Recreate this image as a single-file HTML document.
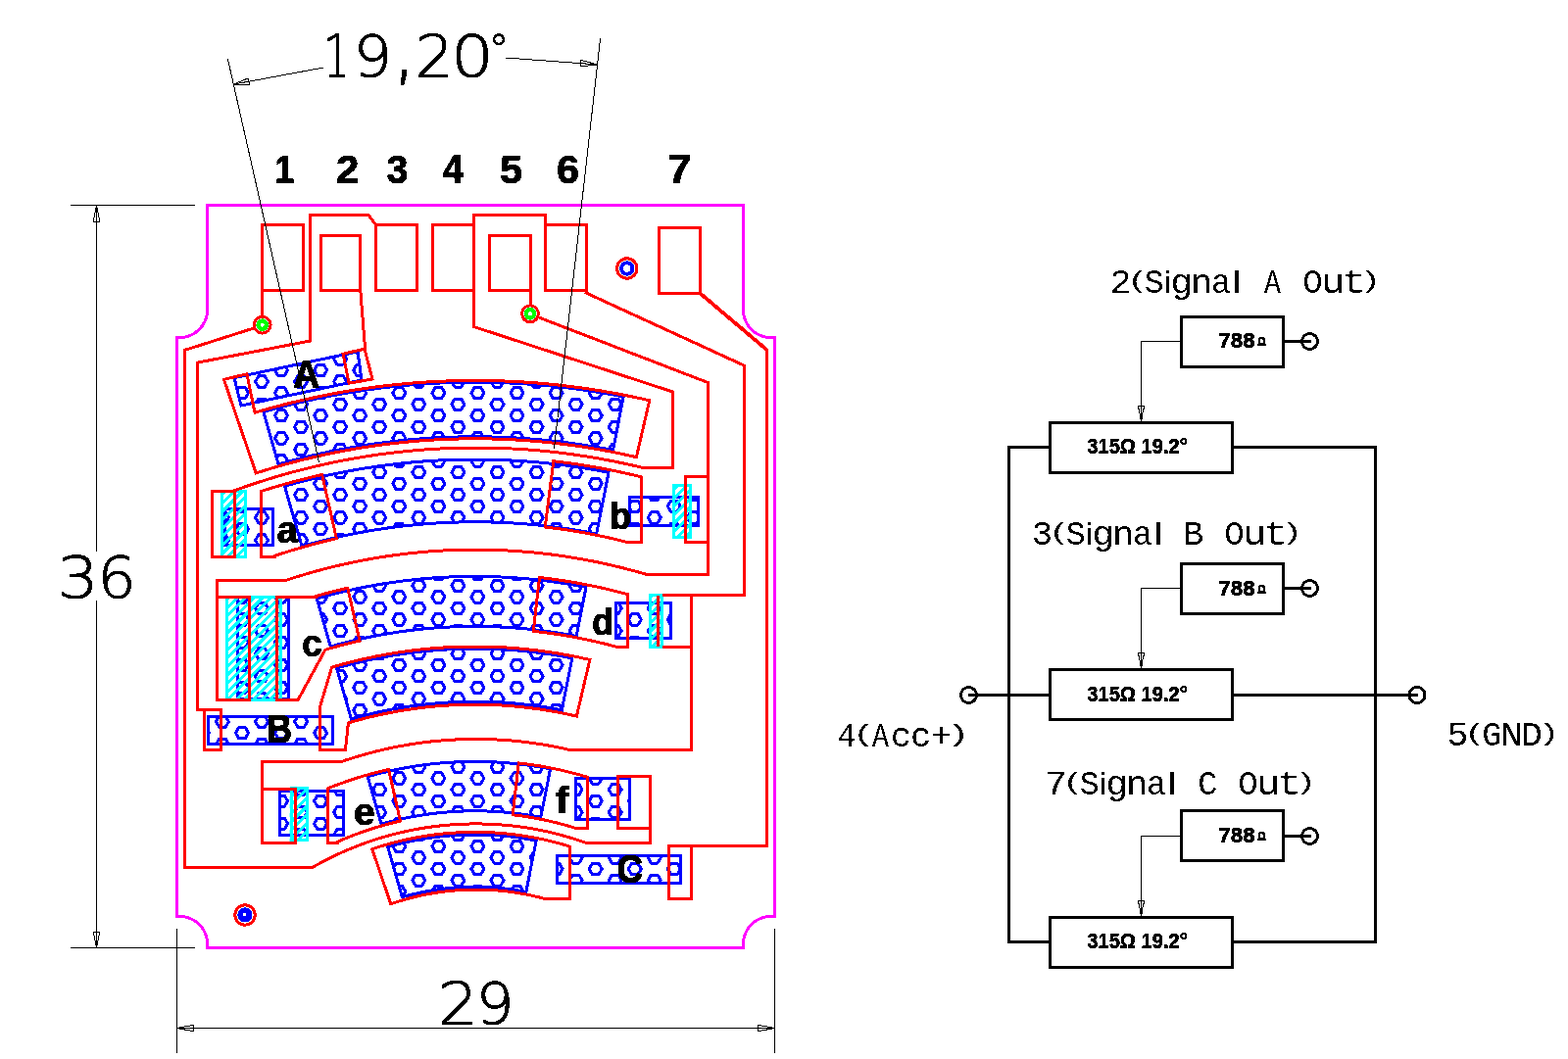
<!DOCTYPE html>
<html lang="en"><head><meta charset="utf-8"><title>Resistor card layout</title>
<style>
html,body{margin:0;padding:0;background:#fff;}
body{width:1600px;height:1081px;overflow:hidden;font-family:"Liberation Sans",sans-serif;}
svg{display:block;}
</style></head><body>
<svg width="1600" height="1081" viewBox="0 0 1600 1081" shape-rendering="crispEdges">
<defs>
<clipPath id="bc">
<path d="M268.82,420.44A785.6 785.6 0 0 1 636.21,404.95L625.49,459.51A730 730 0 0 0 284.1,473.9Z"/>
<path d="M290.47,496.21A706.8 706.8 0 0 1 621.02,482.27L608.71,544.87A643 643 0 0 0 308,557.55Z"/>
<path d="M323.28,611.01A587.4 587.4 0 0 1 597.99,599.43L588.15,649.47A536.4 536.4 0 0 0 337.3,660.05Z"/>
<path d="M343.56,681.97A513.6 513.6 0 0 1 583.76,671.84L573.34,724.83A459.6 459.6 0 0 0 358.4,733.89Z"/>
<path d="M375.22,792.74A398.4 398.4 0 0 1 561.54,784.88L551.82,834.33A348 348 0 0 0 389.07,841.2Z"/>
<path d="M395.72,864.47A323.8 323.8 0 0 1 547.15,858.08L536.87,910.38A270.5 270.5 0 0 0 410.37,915.71Z"/>
<path d="M229,519.5H278.5V556.5H229Z"/>
<path d="M642.5,507.5H712.5V536.5H642.5Z"/>
<path d="M242.5,609.5H294.5V713H242.5Z"/>
<path d="M628.5,615.5H684.5V651.3H628.5Z"/>
<path d="M285.5,807.7H350.5V852.5H285.5Z"/>
<path d="M587.6,794.5H642.5V836.5H587.6Z"/>
<path d="M212.5,731.5H339.5V759.3H212.5Z"/>
<path d="M568.5,873.5H694.5V901.3H568.5Z"/>
<path d="M239,385.6L365,359L369,388L246,414Z"/>
</clipPath>
<clipPath id="cc0"><rect x="225" y="500" width="27" height="70"/></clipPath>
<clipPath id="cc1"><rect x="686" y="494" width="20" height="56"/></clipPath>
<clipPath id="cc2"><rect x="230.2" y="608" width="57.8" height="108"/></clipPath>
<clipPath id="cc3"><rect x="662" y="606" width="15" height="56"/></clipPath>
<clipPath id="cc4"><rect x="295.6" y="803" width="19.4" height="56"/></clipPath>
<filter id="th" x="0" y="0" width="1600" height="1081" filterUnits="userSpaceOnUse" color-interpolation-filters="sRGB"><feComponentTransfer><feFuncA type="discrete" tableValues="0 1"/></feComponentTransfer></filter>
</defs>
<rect width="1600" height="1081" fill="#fff"/>
<g fill="none" stroke="#00f" stroke-width="3" stroke-linejoin="miter">
<path clip-path="url(#bc)" stroke-linejoin="round" d="M213.4,725.0L210.1,730.7L203.6,730.7L200.4,725.0L203.6,719.4L210.1,719.4ZM213.4,748.2L210.1,753.8L203.6,753.8L200.4,748.2L203.6,742.5L210.1,742.5ZM233.4,505.2L230.2,510.8L223.7,510.8L220.4,505.2L223.7,499.6L230.2,499.6ZM233.4,528.3L230.2,534.0L223.7,534.0L220.4,528.3L223.7,522.7L230.2,522.7ZM233.4,551.5L230.2,557.1L223.7,557.1L220.4,551.5L223.7,545.9L230.2,545.9ZM233.4,736.6L230.2,742.2L223.7,742.2L220.4,736.6L223.7,731.0L230.2,731.0ZM233.4,759.7L230.2,765.4L223.7,765.4L220.4,759.7L223.7,754.1L230.2,754.1ZM253.5,354.8L250.2,360.4L243.7,360.4L240.5,354.8L243.7,349.2L250.2,349.2ZM253.5,377.9L250.2,383.6L243.7,383.6L240.5,377.9L243.7,372.3L250.2,372.3ZM253.5,401.1L250.2,406.7L243.7,406.7L240.5,401.1L243.7,395.4L250.2,395.4ZM253.5,516.8L250.2,522.4L243.7,522.4L240.5,516.8L243.7,511.1L250.2,511.1ZM253.5,539.9L250.2,545.5L243.7,545.5L240.5,539.9L243.7,534.3L250.2,534.3ZM253.5,563.1L250.2,568.7L243.7,568.7L240.5,563.1L243.7,557.4L250.2,557.4ZM253.5,609.3L250.2,615.0L243.7,615.0L240.5,609.3L243.7,603.7L250.2,603.7ZM253.5,632.5L250.2,638.1L243.7,638.1L240.5,632.5L243.7,626.8L250.2,626.8ZM253.5,655.6L250.2,661.2L243.7,661.2L240.5,655.6L243.7,650.0L250.2,650.0ZM253.5,678.8L250.2,684.4L243.7,684.4L240.5,678.8L243.7,673.1L250.2,673.1ZM253.5,701.9L250.2,707.5L243.7,707.5L240.5,701.9L243.7,696.3L250.2,696.3ZM253.5,725.0L250.2,730.7L243.7,730.7L240.5,725.0L243.7,719.4L250.2,719.4ZM253.5,748.2L250.2,753.8L243.7,753.8L240.5,748.2L243.7,742.5L250.2,742.5ZM273.5,343.2L270.2,348.8L263.8,348.8L260.5,343.2L263.8,337.6L270.2,337.6ZM273.5,366.4L270.2,372.0L263.8,372.0L260.5,366.4L263.8,360.7L270.2,360.7ZM273.5,389.5L270.2,395.1L263.8,395.1L260.5,389.5L263.8,383.9L270.2,383.9ZM273.5,412.6L270.2,418.3L263.8,418.3L260.5,412.6L263.8,407.0L270.2,407.0ZM273.5,435.8L270.2,441.4L263.8,441.4L260.5,435.8L263.8,430.2L270.2,430.2ZM273.5,458.9L270.2,464.5L263.8,464.5L260.5,458.9L263.8,453.3L270.2,453.3ZM273.5,482.1L270.2,487.7L263.8,487.7L260.5,482.1L263.8,476.4L270.2,476.4ZM273.5,505.2L270.2,510.8L263.8,510.8L260.5,505.2L263.8,499.6L270.2,499.6ZM273.5,528.3L270.2,534.0L263.8,534.0L260.5,528.3L263.8,522.7L270.2,522.7ZM273.5,551.5L270.2,557.1L263.8,557.1L260.5,551.5L263.8,545.9L270.2,545.9ZM273.5,597.8L270.2,603.4L263.8,603.4L260.5,597.8L263.8,592.1L270.2,592.1ZM273.5,620.9L270.2,626.5L263.8,626.5L260.5,620.9L263.8,615.3L270.2,615.3ZM273.5,644.0L270.2,649.7L263.8,649.7L260.5,644.0L263.8,638.4L270.2,638.4ZM273.5,667.2L270.2,672.8L263.8,672.8L260.5,667.2L263.8,661.6L270.2,661.6ZM273.5,690.3L270.2,695.9L263.8,695.9L260.5,690.3L263.8,684.7L270.2,684.7ZM273.5,713.5L270.2,719.1L263.8,719.1L260.5,713.5L263.8,707.8L270.2,707.8ZM273.5,736.6L270.2,742.2L263.8,742.2L260.5,736.6L263.8,731.0L270.2,731.0ZM273.5,759.7L270.2,765.4L263.8,765.4L260.5,759.7L263.8,754.1L270.2,754.1ZM293.5,354.8L290.3,360.4L283.8,360.4L280.5,354.8L283.8,349.2L290.3,349.2ZM293.5,377.9L290.3,383.6L283.8,383.6L280.5,377.9L283.8,372.3L290.3,372.3ZM293.5,401.1L290.3,406.7L283.8,406.7L280.5,401.1L283.8,395.4L290.3,395.4ZM293.5,424.2L290.3,429.8L283.8,429.8L280.5,424.2L283.8,418.6L290.3,418.6ZM293.5,447.3L290.3,453.0L283.8,453.0L280.5,447.3L283.8,441.7L290.3,441.7ZM293.5,470.5L290.3,476.1L283.8,476.1L280.5,470.5L283.8,464.9L290.3,464.9ZM293.5,493.6L290.3,499.3L283.8,499.3L280.5,493.6L283.8,488.0L290.3,488.0ZM293.5,516.8L290.3,522.4L283.8,522.4L280.5,516.8L283.8,511.1L290.3,511.1ZM293.5,539.9L290.3,545.5L283.8,545.5L280.5,539.9L283.8,534.3L290.3,534.3ZM293.5,563.1L290.3,568.7L283.8,568.7L280.5,563.1L283.8,557.4L290.3,557.4ZM293.5,609.3L290.3,615.0L283.8,615.0L280.5,609.3L283.8,603.7L290.3,603.7ZM293.5,632.5L290.3,638.1L283.8,638.1L280.5,632.5L283.8,626.8L290.3,626.8ZM293.5,655.6L290.3,661.2L283.8,661.2L280.5,655.6L283.8,650.0L290.3,650.0ZM293.5,678.8L290.3,684.4L283.8,684.4L280.5,678.8L283.8,673.1L290.3,673.1ZM293.5,701.9L290.3,707.5L283.8,707.5L280.5,701.9L283.8,696.3L290.3,696.3ZM293.5,725.0L290.3,730.7L283.8,730.7L280.5,725.0L283.8,719.4L290.3,719.4ZM293.5,748.2L290.3,753.8L283.8,753.8L280.5,748.2L283.8,742.5L290.3,742.5ZM293.5,794.5L290.3,800.1L283.8,800.1L280.5,794.5L283.8,788.8L290.3,788.8ZM293.5,817.6L290.3,823.2L283.8,823.2L280.5,817.6L283.8,812.0L290.3,812.0ZM293.5,840.7L290.3,846.4L283.8,846.4L280.5,840.7L283.8,835.1L290.3,835.1ZM313.6,343.2L310.3,348.8L303.8,348.8L300.6,343.2L303.8,337.6L310.3,337.6ZM313.6,366.4L310.3,372.0L303.8,372.0L300.6,366.4L303.8,360.7L310.3,360.7ZM313.6,389.5L310.3,395.1L303.8,395.1L300.6,389.5L303.8,383.9L310.3,383.9ZM313.6,412.6L310.3,418.3L303.8,418.3L300.6,412.6L303.8,407.0L310.3,407.0ZM313.6,435.8L310.3,441.4L303.8,441.4L300.6,435.8L303.8,430.2L310.3,430.2ZM313.6,458.9L310.3,464.5L303.8,464.5L300.6,458.9L303.8,453.3L310.3,453.3ZM313.6,482.1L310.3,487.7L303.8,487.7L300.6,482.1L303.8,476.4L310.3,476.4ZM313.6,505.2L310.3,510.8L303.8,510.8L300.6,505.2L303.8,499.6L310.3,499.6ZM313.6,528.3L310.3,534.0L303.8,534.0L300.6,528.3L303.8,522.7L310.3,522.7ZM313.6,551.5L310.3,557.1L303.8,557.1L300.6,551.5L303.8,545.9L310.3,545.9ZM313.6,736.6L310.3,742.2L303.8,742.2L300.6,736.6L303.8,731.0L310.3,731.0ZM313.6,759.7L310.3,765.4L303.8,765.4L300.6,759.7L303.8,754.1L310.3,754.1ZM313.6,806.0L310.3,811.6L303.8,811.6L300.6,806.0L303.8,800.4L310.3,800.4ZM313.6,829.2L310.3,834.8L303.8,834.8L300.6,829.2L303.8,823.5L310.3,823.5ZM313.6,852.3L310.3,857.9L303.8,857.9L300.6,852.3L303.8,846.7L310.3,846.7ZM333.6,354.8L330.4,360.4L323.9,360.4L320.6,354.8L323.9,349.2L330.4,349.2ZM333.6,377.9L330.4,383.6L323.9,383.6L320.6,377.9L323.9,372.3L330.4,372.3ZM333.6,401.1L330.4,406.7L323.9,406.7L320.6,401.1L323.9,395.4L330.4,395.4ZM333.6,424.2L330.4,429.8L323.9,429.8L320.6,424.2L323.9,418.6L330.4,418.6ZM333.6,447.3L330.4,453.0L323.9,453.0L320.6,447.3L323.9,441.7L330.4,441.7ZM333.6,470.5L330.4,476.1L323.9,476.1L320.6,470.5L323.9,464.9L330.4,464.9ZM333.6,493.6L330.4,499.3L323.9,499.3L320.6,493.6L323.9,488.0L330.4,488.0ZM333.6,516.8L330.4,522.4L323.9,522.4L320.6,516.8L323.9,511.1L330.4,511.1ZM333.6,539.9L330.4,545.5L323.9,545.5L320.6,539.9L323.9,534.3L330.4,534.3ZM333.6,563.1L330.4,568.7L323.9,568.7L320.6,563.1L323.9,557.4L330.4,557.4ZM333.6,586.2L330.4,591.8L323.9,591.8L320.6,586.2L323.9,580.6L330.4,580.6ZM333.6,609.3L330.4,615.0L323.9,615.0L320.6,609.3L323.9,603.7L330.4,603.7ZM333.6,632.5L330.4,638.1L323.9,638.1L320.6,632.5L323.9,626.8L330.4,626.8ZM333.6,655.6L330.4,661.2L323.9,661.2L320.6,655.6L323.9,650.0L330.4,650.0ZM333.6,725.0L330.4,730.7L323.9,730.7L320.6,725.0L323.9,719.4L330.4,719.4ZM333.6,748.2L330.4,753.8L323.9,753.8L320.6,748.2L323.9,742.5L330.4,742.5ZM333.6,794.5L330.4,800.1L323.9,800.1L320.6,794.5L323.9,788.8L330.4,788.8ZM333.6,817.6L330.4,823.2L323.9,823.2L320.6,817.6L323.9,812.0L330.4,812.0ZM333.6,840.7L330.4,846.4L323.9,846.4L320.6,840.7L323.9,835.1L330.4,835.1ZM353.7,343.2L350.4,348.8L343.9,348.8L340.7,343.2L343.9,337.6L350.4,337.6ZM353.7,366.4L350.4,372.0L343.9,372.0L340.7,366.4L343.9,360.7L350.4,360.7ZM353.7,389.5L350.4,395.1L343.9,395.1L340.7,389.5L343.9,383.9L350.4,383.9ZM353.7,412.6L350.4,418.3L343.9,418.3L340.7,412.6L343.9,407.0L350.4,407.0ZM353.7,435.8L350.4,441.4L343.9,441.4L340.7,435.8L343.9,430.2L350.4,430.2ZM353.7,458.9L350.4,464.5L343.9,464.5L340.7,458.9L343.9,453.3L350.4,453.3ZM353.7,482.1L350.4,487.7L343.9,487.7L340.7,482.1L343.9,476.4L350.4,476.4ZM353.7,505.2L350.4,510.8L343.9,510.8L340.7,505.2L343.9,499.6L350.4,499.6ZM353.7,528.3L350.4,534.0L343.9,534.0L340.7,528.3L343.9,522.7L350.4,522.7ZM353.7,551.5L350.4,557.1L343.9,557.1L340.7,551.5L343.9,545.9L350.4,545.9ZM353.7,597.8L350.4,603.4L343.9,603.4L340.7,597.8L343.9,592.1L350.4,592.1ZM353.7,620.9L350.4,626.5L343.9,626.5L340.7,620.9L343.9,615.3L350.4,615.3ZM353.7,644.0L350.4,649.7L343.9,649.7L340.7,644.0L343.9,638.4L350.4,638.4ZM353.7,667.2L350.4,672.8L343.9,672.8L340.7,667.2L343.9,661.6L350.4,661.6ZM353.7,690.3L350.4,695.9L343.9,695.9L340.7,690.3L343.9,684.7L350.4,684.7ZM353.7,713.5L350.4,719.1L343.9,719.1L340.7,713.5L343.9,707.8L350.4,707.8ZM353.7,736.6L350.4,742.2L343.9,742.2L340.7,736.6L343.9,731.0L350.4,731.0ZM353.7,759.7L350.4,765.4L343.9,765.4L340.7,759.7L343.9,754.1L350.4,754.1ZM353.7,806.0L350.4,811.6L343.9,811.6L340.7,806.0L343.9,800.4L350.4,800.4ZM353.7,829.2L350.4,834.8L343.9,834.8L340.7,829.2L343.9,823.5L350.4,823.5ZM353.7,852.3L350.4,857.9L343.9,857.9L340.7,852.3L343.9,846.7L350.4,846.7ZM373.7,354.8L370.4,360.4L363.9,360.4L360.7,354.8L363.9,349.2L370.4,349.2ZM373.7,377.9L370.4,383.6L363.9,383.6L360.7,377.9L363.9,372.3L370.4,372.3ZM373.7,401.1L370.4,406.7L363.9,406.7L360.7,401.1L363.9,395.4L370.4,395.4ZM373.7,424.2L370.4,429.8L363.9,429.8L360.7,424.2L363.9,418.6L370.4,418.6ZM373.7,447.3L370.4,453.0L363.9,453.0L360.7,447.3L363.9,441.7L370.4,441.7ZM373.7,470.5L370.4,476.1L363.9,476.1L360.7,470.5L363.9,464.9L370.4,464.9ZM373.7,493.6L370.4,499.3L363.9,499.3L360.7,493.6L363.9,488.0L370.4,488.0ZM373.7,516.8L370.4,522.4L363.9,522.4L360.7,516.8L363.9,511.1L370.4,511.1ZM373.7,539.9L370.4,545.5L363.9,545.5L360.7,539.9L363.9,534.3L370.4,534.3ZM373.7,563.1L370.4,568.7L363.9,568.7L360.7,563.1L363.9,557.4L370.4,557.4ZM373.7,586.2L370.4,591.8L363.9,591.8L360.7,586.2L363.9,580.6L370.4,580.6ZM373.7,609.3L370.4,615.0L363.9,615.0L360.7,609.3L363.9,603.7L370.4,603.7ZM373.7,632.5L370.4,638.1L363.9,638.1L360.7,632.5L363.9,626.8L370.4,626.8ZM373.7,655.6L370.4,661.2L363.9,661.2L360.7,655.6L363.9,650.0L370.4,650.0ZM373.7,678.8L370.4,684.4L363.9,684.4L360.7,678.8L363.9,673.1L370.4,673.1ZM373.7,701.9L370.4,707.5L363.9,707.5L360.7,701.9L363.9,696.3L370.4,696.3ZM373.7,725.0L370.4,730.7L363.9,730.7L360.7,725.0L363.9,719.4L370.4,719.4ZM373.7,771.3L370.4,776.9L363.9,776.9L360.7,771.3L363.9,765.7L370.4,765.7ZM373.7,794.5L370.4,800.1L363.9,800.1L360.7,794.5L363.9,788.8L370.4,788.8ZM373.7,817.6L370.4,823.2L363.9,823.2L360.7,817.6L363.9,812.0L370.4,812.0ZM373.7,840.7L370.4,846.4L363.9,846.4L360.7,840.7L363.9,835.1L370.4,835.1ZM393.7,389.5L390.5,395.1L384.0,395.1L380.7,389.5L384.0,383.9L390.5,383.9ZM393.7,412.6L390.5,418.3L384.0,418.3L380.7,412.6L384.0,407.0L390.5,407.0ZM393.7,435.8L390.5,441.4L384.0,441.4L380.7,435.8L384.0,430.2L390.5,430.2ZM393.7,458.9L390.5,464.5L384.0,464.5L380.7,458.9L384.0,453.3L390.5,453.3ZM393.7,482.1L390.5,487.7L384.0,487.7L380.7,482.1L384.0,476.4L390.5,476.4ZM393.7,505.2L390.5,510.8L384.0,510.8L380.7,505.2L384.0,499.6L390.5,499.6ZM393.7,528.3L390.5,534.0L384.0,534.0L380.7,528.3L384.0,522.7L390.5,522.7ZM393.7,551.5L390.5,557.1L384.0,557.1L380.7,551.5L384.0,545.9L390.5,545.9ZM393.7,597.8L390.5,603.4L384.0,603.4L380.7,597.8L384.0,592.1L390.5,592.1ZM393.7,620.9L390.5,626.5L384.0,626.5L380.7,620.9L384.0,615.3L390.5,615.3ZM393.7,644.0L390.5,649.7L384.0,649.7L380.7,644.0L384.0,638.4L390.5,638.4ZM393.7,667.2L390.5,672.8L384.0,672.8L380.7,667.2L384.0,661.6L390.5,661.6ZM393.7,690.3L390.5,695.9L384.0,695.9L380.7,690.3L384.0,684.7L390.5,684.7ZM393.7,713.5L390.5,719.1L384.0,719.1L380.7,713.5L384.0,707.8L390.5,707.8ZM393.7,736.6L390.5,742.2L384.0,742.2L380.7,736.6L384.0,731.0L390.5,731.0ZM393.7,782.9L390.5,788.5L384.0,788.5L380.7,782.9L384.0,777.3L390.5,777.3ZM393.7,806.0L390.5,811.6L384.0,811.6L380.7,806.0L384.0,800.4L390.5,800.4ZM393.7,829.2L390.5,834.8L384.0,834.8L380.7,829.2L384.0,823.5L390.5,823.5ZM393.7,852.3L390.5,857.9L384.0,857.9L380.7,852.3L384.0,846.7L390.5,846.7ZM393.7,875.4L390.5,881.1L384.0,881.1L380.7,875.4L384.0,869.8L390.5,869.8ZM393.7,898.6L390.5,904.2L384.0,904.2L380.7,898.6L384.0,893.0L390.5,893.0ZM393.7,921.7L390.5,927.3L384.0,927.3L380.7,921.7L384.0,916.1L390.5,916.1ZM413.8,401.1L410.5,406.7L404.0,406.7L400.8,401.1L404.0,395.4L410.5,395.4ZM413.8,424.2L410.5,429.8L404.0,429.8L400.8,424.2L404.0,418.6L410.5,418.6ZM413.8,447.3L410.5,453.0L404.0,453.0L400.8,447.3L404.0,441.7L410.5,441.7ZM413.8,470.5L410.5,476.1L404.0,476.1L400.8,470.5L404.0,464.9L410.5,464.9ZM413.8,493.6L410.5,499.3L404.0,499.3L400.8,493.6L404.0,488.0L410.5,488.0ZM413.8,516.8L410.5,522.4L404.0,522.4L400.8,516.8L404.0,511.1L410.5,511.1ZM413.8,539.9L410.5,545.5L404.0,545.5L400.8,539.9L404.0,534.3L410.5,534.3ZM413.8,563.1L410.5,568.7L404.0,568.7L400.8,563.1L404.0,557.4L410.5,557.4ZM413.8,586.2L410.5,591.8L404.0,591.8L400.8,586.2L404.0,580.6L410.5,580.6ZM413.8,609.3L410.5,615.0L404.0,615.0L400.8,609.3L404.0,603.7L410.5,603.7ZM413.8,632.5L410.5,638.1L404.0,638.1L400.8,632.5L404.0,626.8L410.5,626.8ZM413.8,655.6L410.5,661.2L404.0,661.2L400.8,655.6L404.0,650.0L410.5,650.0ZM413.8,678.8L410.5,684.4L404.0,684.4L400.8,678.8L404.0,673.1L410.5,673.1ZM413.8,701.9L410.5,707.5L404.0,707.5L400.8,701.9L404.0,696.3L410.5,696.3ZM413.8,725.0L410.5,730.7L404.0,730.7L400.8,725.0L404.0,719.4L410.5,719.4ZM413.8,771.3L410.5,776.9L404.0,776.9L400.8,771.3L404.0,765.7L410.5,765.7ZM413.8,794.5L410.5,800.1L404.0,800.1L400.8,794.5L404.0,788.8L410.5,788.8ZM413.8,817.6L410.5,823.2L404.0,823.2L400.8,817.6L404.0,812.0L410.5,812.0ZM413.8,840.7L410.5,846.4L404.0,846.4L400.8,840.7L404.0,835.1L410.5,835.1ZM413.8,863.9L410.5,869.5L404.0,869.5L400.8,863.9L404.0,858.2L410.5,858.2ZM413.8,887.0L410.5,892.6L404.0,892.6L400.8,887.0L404.0,881.4L410.5,881.4ZM413.8,910.2L410.5,915.8L404.0,915.8L400.8,910.2L404.0,904.5L410.5,904.5ZM433.8,389.5L430.6,395.1L424.1,395.1L420.8,389.5L424.1,383.9L430.6,383.9ZM433.8,412.6L430.6,418.3L424.1,418.3L420.8,412.6L424.1,407.0L430.6,407.0ZM433.8,435.8L430.6,441.4L424.1,441.4L420.8,435.8L424.1,430.2L430.6,430.2ZM433.8,458.9L430.6,464.5L424.1,464.5L420.8,458.9L424.1,453.3L430.6,453.3ZM433.8,482.1L430.6,487.7L424.1,487.7L420.8,482.1L424.1,476.4L430.6,476.4ZM433.8,505.2L430.6,510.8L424.1,510.8L420.8,505.2L424.1,499.6L430.6,499.6ZM433.8,528.3L430.6,534.0L424.1,534.0L420.8,528.3L424.1,522.7L430.6,522.7ZM433.8,551.5L430.6,557.1L424.1,557.1L420.8,551.5L424.1,545.9L430.6,545.9ZM433.8,597.8L430.6,603.4L424.1,603.4L420.8,597.8L424.1,592.1L430.6,592.1ZM433.8,620.9L430.6,626.5L424.1,626.5L420.8,620.9L424.1,615.3L430.6,615.3ZM433.8,644.0L430.6,649.7L424.1,649.7L420.8,644.0L424.1,638.4L430.6,638.4ZM433.8,667.2L430.6,672.8L424.1,672.8L420.8,667.2L424.1,661.6L430.6,661.6ZM433.8,690.3L430.6,695.9L424.1,695.9L420.8,690.3L424.1,684.7L430.6,684.7ZM433.8,713.5L430.6,719.1L424.1,719.1L420.8,713.5L424.1,707.8L430.6,707.8ZM433.8,736.6L430.6,742.2L424.1,742.2L420.8,736.6L424.1,731.0L430.6,731.0ZM433.8,782.9L430.6,788.5L424.1,788.5L420.8,782.9L424.1,777.3L430.6,777.3ZM433.8,806.0L430.6,811.6L424.1,811.6L420.8,806.0L424.1,800.4L430.6,800.4ZM433.8,829.2L430.6,834.8L424.1,834.8L420.8,829.2L424.1,823.5L430.6,823.5ZM433.8,852.3L430.6,857.9L424.1,857.9L420.8,852.3L424.1,846.7L430.6,846.7ZM433.8,875.4L430.6,881.1L424.1,881.1L420.8,875.4L424.1,869.8L430.6,869.8ZM433.8,898.6L430.6,904.2L424.1,904.2L420.8,898.6L424.1,893.0L430.6,893.0ZM433.8,921.7L430.6,927.3L424.1,927.3L420.8,921.7L424.1,916.1L430.6,916.1ZM453.9,401.1L450.6,406.7L444.1,406.7L440.9,401.1L444.1,395.4L450.6,395.4ZM453.9,424.2L450.6,429.8L444.1,429.8L440.9,424.2L444.1,418.6L450.6,418.6ZM453.9,447.3L450.6,453.0L444.1,453.0L440.9,447.3L444.1,441.7L450.6,441.7ZM453.9,470.5L450.6,476.1L444.1,476.1L440.9,470.5L444.1,464.9L450.6,464.9ZM453.9,493.6L450.6,499.3L444.1,499.3L440.9,493.6L444.1,488.0L450.6,488.0ZM453.9,516.8L450.6,522.4L444.1,522.4L440.9,516.8L444.1,511.1L450.6,511.1ZM453.9,539.9L450.6,545.5L444.1,545.5L440.9,539.9L444.1,534.3L450.6,534.3ZM453.9,563.1L450.6,568.7L444.1,568.7L440.9,563.1L444.1,557.4L450.6,557.4ZM453.9,586.2L450.6,591.8L444.1,591.8L440.9,586.2L444.1,580.6L450.6,580.6ZM453.9,609.3L450.6,615.0L444.1,615.0L440.9,609.3L444.1,603.7L450.6,603.7ZM453.9,632.5L450.6,638.1L444.1,638.1L440.9,632.5L444.1,626.8L450.6,626.8ZM453.9,655.6L450.6,661.2L444.1,661.2L440.9,655.6L444.1,650.0L450.6,650.0ZM453.9,678.8L450.6,684.4L444.1,684.4L440.9,678.8L444.1,673.1L450.6,673.1ZM453.9,701.9L450.6,707.5L444.1,707.5L440.9,701.9L444.1,696.3L450.6,696.3ZM453.9,725.0L450.6,730.7L444.1,730.7L440.9,725.0L444.1,719.4L450.6,719.4ZM453.9,771.3L450.6,776.9L444.1,776.9L440.9,771.3L444.1,765.7L450.6,765.7ZM453.9,794.5L450.6,800.1L444.1,800.1L440.9,794.5L444.1,788.8L450.6,788.8ZM453.9,817.6L450.6,823.2L444.1,823.2L440.9,817.6L444.1,812.0L450.6,812.0ZM453.9,840.7L450.6,846.4L444.1,846.4L440.9,840.7L444.1,835.1L450.6,835.1ZM453.9,863.9L450.6,869.5L444.1,869.5L440.9,863.9L444.1,858.2L450.6,858.2ZM453.9,887.0L450.6,892.6L444.1,892.6L440.9,887.0L444.1,881.4L450.6,881.4ZM453.9,910.2L450.6,915.8L444.1,915.8L440.9,910.2L444.1,904.5L450.6,904.5ZM473.9,389.5L470.6,395.1L464.1,395.1L460.9,389.5L464.1,383.9L470.6,383.9ZM473.9,412.6L470.6,418.3L464.1,418.3L460.9,412.6L464.1,407.0L470.6,407.0ZM473.9,435.8L470.6,441.4L464.1,441.4L460.9,435.8L464.1,430.2L470.6,430.2ZM473.9,458.9L470.6,464.5L464.1,464.5L460.9,458.9L464.1,453.3L470.6,453.3ZM473.9,482.1L470.6,487.7L464.1,487.7L460.9,482.1L464.1,476.4L470.6,476.4ZM473.9,505.2L470.6,510.8L464.1,510.8L460.9,505.2L464.1,499.6L470.6,499.6ZM473.9,528.3L470.6,534.0L464.1,534.0L460.9,528.3L464.1,522.7L470.6,522.7ZM473.9,551.5L470.6,557.1L464.1,557.1L460.9,551.5L464.1,545.9L470.6,545.9ZM473.9,597.8L470.6,603.4L464.1,603.4L460.9,597.8L464.1,592.1L470.6,592.1ZM473.9,620.9L470.6,626.5L464.1,626.5L460.9,620.9L464.1,615.3L470.6,615.3ZM473.9,644.0L470.6,649.7L464.1,649.7L460.9,644.0L464.1,638.4L470.6,638.4ZM473.9,667.2L470.6,672.8L464.1,672.8L460.9,667.2L464.1,661.6L470.6,661.6ZM473.9,690.3L470.6,695.9L464.1,695.9L460.9,690.3L464.1,684.7L470.6,684.7ZM473.9,713.5L470.6,719.1L464.1,719.1L460.9,713.5L464.1,707.8L470.6,707.8ZM473.9,736.6L470.6,742.2L464.1,742.2L460.9,736.6L464.1,731.0L470.6,731.0ZM473.9,782.9L470.6,788.5L464.1,788.5L460.9,782.9L464.1,777.3L470.6,777.3ZM473.9,806.0L470.6,811.6L464.1,811.6L460.9,806.0L464.1,800.4L470.6,800.4ZM473.9,829.2L470.6,834.8L464.1,834.8L460.9,829.2L464.1,823.5L470.6,823.5ZM473.9,852.3L470.6,857.9L464.1,857.9L460.9,852.3L464.1,846.7L470.6,846.7ZM473.9,875.4L470.6,881.1L464.1,881.1L460.9,875.4L464.1,869.8L470.6,869.8ZM473.9,898.6L470.6,904.2L464.1,904.2L460.9,898.6L464.1,893.0L470.6,893.0ZM473.9,921.7L470.6,927.3L464.1,927.3L460.9,921.7L464.1,916.1L470.6,916.1ZM493.9,401.1L490.7,406.7L484.2,406.7L480.9,401.1L484.2,395.4L490.7,395.4ZM493.9,424.2L490.7,429.8L484.2,429.8L480.9,424.2L484.2,418.6L490.7,418.6ZM493.9,447.3L490.7,453.0L484.2,453.0L480.9,447.3L484.2,441.7L490.7,441.7ZM493.9,470.5L490.7,476.1L484.2,476.1L480.9,470.5L484.2,464.9L490.7,464.9ZM493.9,493.6L490.7,499.3L484.2,499.3L480.9,493.6L484.2,488.0L490.7,488.0ZM493.9,516.8L490.7,522.4L484.2,522.4L480.9,516.8L484.2,511.1L490.7,511.1ZM493.9,539.9L490.7,545.5L484.2,545.5L480.9,539.9L484.2,534.3L490.7,534.3ZM493.9,563.1L490.7,568.7L484.2,568.7L480.9,563.1L484.2,557.4L490.7,557.4ZM493.9,586.2L490.7,591.8L484.2,591.8L480.9,586.2L484.2,580.6L490.7,580.6ZM493.9,609.3L490.7,615.0L484.2,615.0L480.9,609.3L484.2,603.7L490.7,603.7ZM493.9,632.5L490.7,638.1L484.2,638.1L480.9,632.5L484.2,626.8L490.7,626.8ZM493.9,655.6L490.7,661.2L484.2,661.2L480.9,655.6L484.2,650.0L490.7,650.0ZM493.9,678.8L490.7,684.4L484.2,684.4L480.9,678.8L484.2,673.1L490.7,673.1ZM493.9,701.9L490.7,707.5L484.2,707.5L480.9,701.9L484.2,696.3L490.7,696.3ZM493.9,725.0L490.7,730.7L484.2,730.7L480.9,725.0L484.2,719.4L490.7,719.4ZM493.9,771.3L490.7,776.9L484.2,776.9L480.9,771.3L484.2,765.7L490.7,765.7ZM493.9,794.5L490.7,800.1L484.2,800.1L480.9,794.5L484.2,788.8L490.7,788.8ZM493.9,817.6L490.7,823.2L484.2,823.2L480.9,817.6L484.2,812.0L490.7,812.0ZM493.9,840.7L490.7,846.4L484.2,846.4L480.9,840.7L484.2,835.1L490.7,835.1ZM493.9,863.9L490.7,869.5L484.2,869.5L480.9,863.9L484.2,858.2L490.7,858.2ZM493.9,887.0L490.7,892.6L484.2,892.6L480.9,887.0L484.2,881.4L490.7,881.4ZM493.9,910.2L490.7,915.8L484.2,915.8L480.9,910.2L484.2,904.5L490.7,904.5ZM514.0,389.5L510.7,395.1L504.2,395.1L501.0,389.5L504.2,383.9L510.7,383.9ZM514.0,412.6L510.7,418.3L504.2,418.3L501.0,412.6L504.2,407.0L510.7,407.0ZM514.0,435.8L510.7,441.4L504.2,441.4L501.0,435.8L504.2,430.2L510.7,430.2ZM514.0,458.9L510.7,464.5L504.2,464.5L501.0,458.9L504.2,453.3L510.7,453.3ZM514.0,482.1L510.7,487.7L504.2,487.7L501.0,482.1L504.2,476.4L510.7,476.4ZM514.0,505.2L510.7,510.8L504.2,510.8L501.0,505.2L504.2,499.6L510.7,499.6ZM514.0,528.3L510.7,534.0L504.2,534.0L501.0,528.3L504.2,522.7L510.7,522.7ZM514.0,551.5L510.7,557.1L504.2,557.1L501.0,551.5L504.2,545.9L510.7,545.9ZM514.0,597.8L510.7,603.4L504.2,603.4L501.0,597.8L504.2,592.1L510.7,592.1ZM514.0,620.9L510.7,626.5L504.2,626.5L501.0,620.9L504.2,615.3L510.7,615.3ZM514.0,644.0L510.7,649.7L504.2,649.7L501.0,644.0L504.2,638.4L510.7,638.4ZM514.0,667.2L510.7,672.8L504.2,672.8L501.0,667.2L504.2,661.6L510.7,661.6ZM514.0,690.3L510.7,695.9L504.2,695.9L501.0,690.3L504.2,684.7L510.7,684.7ZM514.0,713.5L510.7,719.1L504.2,719.1L501.0,713.5L504.2,707.8L510.7,707.8ZM514.0,736.6L510.7,742.2L504.2,742.2L501.0,736.6L504.2,731.0L510.7,731.0ZM514.0,782.9L510.7,788.5L504.2,788.5L501.0,782.9L504.2,777.3L510.7,777.3ZM514.0,806.0L510.7,811.6L504.2,811.6L501.0,806.0L504.2,800.4L510.7,800.4ZM514.0,829.2L510.7,834.8L504.2,834.8L501.0,829.2L504.2,823.5L510.7,823.5ZM514.0,852.3L510.7,857.9L504.2,857.9L501.0,852.3L504.2,846.7L510.7,846.7ZM514.0,875.4L510.7,881.1L504.2,881.1L501.0,875.4L504.2,869.8L510.7,869.8ZM514.0,898.6L510.7,904.2L504.2,904.2L501.0,898.6L504.2,893.0L510.7,893.0ZM514.0,921.7L510.7,927.3L504.2,927.3L501.0,921.7L504.2,916.1L510.7,916.1ZM534.0,401.1L530.8,406.7L524.3,406.7L521.0,401.1L524.3,395.4L530.8,395.4ZM534.0,424.2L530.8,429.8L524.3,429.8L521.0,424.2L524.3,418.6L530.8,418.6ZM534.0,447.3L530.8,453.0L524.3,453.0L521.0,447.3L524.3,441.7L530.8,441.7ZM534.0,470.5L530.8,476.1L524.3,476.1L521.0,470.5L524.3,464.9L530.8,464.9ZM534.0,493.6L530.8,499.3L524.3,499.3L521.0,493.6L524.3,488.0L530.8,488.0ZM534.0,516.8L530.8,522.4L524.3,522.4L521.0,516.8L524.3,511.1L530.8,511.1ZM534.0,539.9L530.8,545.5L524.3,545.5L521.0,539.9L524.3,534.3L530.8,534.3ZM534.0,563.1L530.8,568.7L524.3,568.7L521.0,563.1L524.3,557.4L530.8,557.4ZM534.0,586.2L530.8,591.8L524.3,591.8L521.0,586.2L524.3,580.6L530.8,580.6ZM534.0,609.3L530.8,615.0L524.3,615.0L521.0,609.3L524.3,603.7L530.8,603.7ZM534.0,632.5L530.8,638.1L524.3,638.1L521.0,632.5L524.3,626.8L530.8,626.8ZM534.0,655.6L530.8,661.2L524.3,661.2L521.0,655.6L524.3,650.0L530.8,650.0ZM534.0,678.8L530.8,684.4L524.3,684.4L521.0,678.8L524.3,673.1L530.8,673.1ZM534.0,701.9L530.8,707.5L524.3,707.5L521.0,701.9L524.3,696.3L530.8,696.3ZM534.0,725.0L530.8,730.7L524.3,730.7L521.0,725.0L524.3,719.4L530.8,719.4ZM534.0,771.3L530.8,776.9L524.3,776.9L521.0,771.3L524.3,765.7L530.8,765.7ZM534.0,794.5L530.8,800.1L524.3,800.1L521.0,794.5L524.3,788.8L530.8,788.8ZM534.0,817.6L530.8,823.2L524.3,823.2L521.0,817.6L524.3,812.0L530.8,812.0ZM534.0,840.7L530.8,846.4L524.3,846.4L521.0,840.7L524.3,835.1L530.8,835.1ZM534.0,863.9L530.8,869.5L524.3,869.5L521.0,863.9L524.3,858.2L530.8,858.2ZM534.0,887.0L530.8,892.6L524.3,892.6L521.0,887.0L524.3,881.4L530.8,881.4ZM534.0,910.2L530.8,915.8L524.3,915.8L521.0,910.2L524.3,904.5L530.8,904.5ZM554.1,389.5L550.8,395.1L544.3,395.1L541.1,389.5L544.3,383.9L550.8,383.9ZM554.1,412.6L550.8,418.3L544.3,418.3L541.1,412.6L544.3,407.0L550.8,407.0ZM554.1,435.8L550.8,441.4L544.3,441.4L541.1,435.8L544.3,430.2L550.8,430.2ZM554.1,458.9L550.8,464.5L544.3,464.5L541.1,458.9L544.3,453.3L550.8,453.3ZM554.1,482.1L550.8,487.7L544.3,487.7L541.1,482.1L544.3,476.4L550.8,476.4ZM554.1,505.2L550.8,510.8L544.3,510.8L541.1,505.2L544.3,499.6L550.8,499.6ZM554.1,528.3L550.8,534.0L544.3,534.0L541.1,528.3L544.3,522.7L550.8,522.7ZM554.1,551.5L550.8,557.1L544.3,557.1L541.1,551.5L544.3,545.9L550.8,545.9ZM554.1,597.8L550.8,603.4L544.3,603.4L541.1,597.8L544.3,592.1L550.8,592.1ZM554.1,620.9L550.8,626.5L544.3,626.5L541.1,620.9L544.3,615.3L550.8,615.3ZM554.1,644.0L550.8,649.7L544.3,649.7L541.1,644.0L544.3,638.4L550.8,638.4ZM554.1,667.2L550.8,672.8L544.3,672.8L541.1,667.2L544.3,661.6L550.8,661.6ZM554.1,690.3L550.8,695.9L544.3,695.9L541.1,690.3L544.3,684.7L550.8,684.7ZM554.1,713.5L550.8,719.1L544.3,719.1L541.1,713.5L544.3,707.8L550.8,707.8ZM554.1,736.6L550.8,742.2L544.3,742.2L541.1,736.6L544.3,731.0L550.8,731.0ZM554.1,782.9L550.8,788.5L544.3,788.5L541.1,782.9L544.3,777.3L550.8,777.3ZM554.1,806.0L550.8,811.6L544.3,811.6L541.1,806.0L544.3,800.4L550.8,800.4ZM554.1,829.2L550.8,834.8L544.3,834.8L541.1,829.2L544.3,823.5L550.8,823.5ZM554.1,852.3L550.8,857.9L544.3,857.9L541.1,852.3L544.3,846.7L550.8,846.7ZM554.1,875.4L550.8,881.1L544.3,881.1L541.1,875.4L544.3,869.8L550.8,869.8ZM554.1,898.6L550.8,904.2L544.3,904.2L541.1,898.6L544.3,893.0L550.8,893.0ZM554.1,921.7L550.8,927.3L544.3,927.3L541.1,921.7L544.3,916.1L550.8,916.1ZM574.1,401.1L570.8,406.7L564.3,406.7L561.1,401.1L564.3,395.4L570.8,395.4ZM574.1,424.2L570.8,429.8L564.3,429.8L561.1,424.2L564.3,418.6L570.8,418.6ZM574.1,447.3L570.8,453.0L564.3,453.0L561.1,447.3L564.3,441.7L570.8,441.7ZM574.1,470.5L570.8,476.1L564.3,476.1L561.1,470.5L564.3,464.9L570.8,464.9ZM574.1,493.6L570.8,499.3L564.3,499.3L561.1,493.6L564.3,488.0L570.8,488.0ZM574.1,516.8L570.8,522.4L564.3,522.4L561.1,516.8L564.3,511.1L570.8,511.1ZM574.1,539.9L570.8,545.5L564.3,545.5L561.1,539.9L564.3,534.3L570.8,534.3ZM574.1,563.1L570.8,568.7L564.3,568.7L561.1,563.1L564.3,557.4L570.8,557.4ZM574.1,586.2L570.8,591.8L564.3,591.8L561.1,586.2L564.3,580.6L570.8,580.6ZM574.1,609.3L570.8,615.0L564.3,615.0L561.1,609.3L564.3,603.7L570.8,603.7ZM574.1,632.5L570.8,638.1L564.3,638.1L561.1,632.5L564.3,626.8L570.8,626.8ZM574.1,655.6L570.8,661.2L564.3,661.2L561.1,655.6L564.3,650.0L570.8,650.0ZM574.1,678.8L570.8,684.4L564.3,684.4L561.1,678.8L564.3,673.1L570.8,673.1ZM574.1,701.9L570.8,707.5L564.3,707.5L561.1,701.9L564.3,696.3L570.8,696.3ZM574.1,725.0L570.8,730.7L564.3,730.7L561.1,725.0L564.3,719.4L570.8,719.4ZM574.1,771.3L570.8,776.9L564.3,776.9L561.1,771.3L564.3,765.7L570.8,765.7ZM574.1,794.5L570.8,800.1L564.3,800.1L561.1,794.5L564.3,788.8L570.8,788.8ZM574.1,817.6L570.8,823.2L564.3,823.2L561.1,817.6L564.3,812.0L570.8,812.0ZM574.1,840.7L570.8,846.4L564.3,846.4L561.1,840.7L564.3,835.1L570.8,835.1ZM574.1,863.9L570.8,869.5L564.3,869.5L561.1,863.9L564.3,858.2L570.8,858.2ZM574.1,887.0L570.8,892.6L564.3,892.6L561.1,887.0L564.3,881.4L570.8,881.4ZM574.1,910.2L570.8,915.8L564.3,915.8L561.1,910.2L564.3,904.5L570.8,904.5ZM594.1,389.5L590.9,395.1L584.4,395.1L581.1,389.5L584.4,383.9L590.9,383.9ZM594.1,412.6L590.9,418.3L584.4,418.3L581.1,412.6L584.4,407.0L590.9,407.0ZM594.1,435.8L590.9,441.4L584.4,441.4L581.1,435.8L584.4,430.2L590.9,430.2ZM594.1,458.9L590.9,464.5L584.4,464.5L581.1,458.9L584.4,453.3L590.9,453.3ZM594.1,482.1L590.9,487.7L584.4,487.7L581.1,482.1L584.4,476.4L590.9,476.4ZM594.1,505.2L590.9,510.8L584.4,510.8L581.1,505.2L584.4,499.6L590.9,499.6ZM594.1,528.3L590.9,534.0L584.4,534.0L581.1,528.3L584.4,522.7L590.9,522.7ZM594.1,551.5L590.9,557.1L584.4,557.1L581.1,551.5L584.4,545.9L590.9,545.9ZM594.1,597.8L590.9,603.4L584.4,603.4L581.1,597.8L584.4,592.1L590.9,592.1ZM594.1,620.9L590.9,626.5L584.4,626.5L581.1,620.9L584.4,615.3L590.9,615.3ZM594.1,644.0L590.9,649.7L584.4,649.7L581.1,644.0L584.4,638.4L590.9,638.4ZM594.1,667.2L590.9,672.8L584.4,672.8L581.1,667.2L584.4,661.6L590.9,661.6ZM594.1,690.3L590.9,695.9L584.4,695.9L581.1,690.3L584.4,684.7L590.9,684.7ZM594.1,713.5L590.9,719.1L584.4,719.1L581.1,713.5L584.4,707.8L590.9,707.8ZM594.1,736.6L590.9,742.2L584.4,742.2L581.1,736.6L584.4,731.0L590.9,731.0ZM594.1,782.9L590.9,788.5L584.4,788.5L581.1,782.9L584.4,777.3L590.9,777.3ZM594.1,806.0L590.9,811.6L584.4,811.6L581.1,806.0L584.4,800.4L590.9,800.4ZM594.1,829.2L590.9,834.8L584.4,834.8L581.1,829.2L584.4,823.5L590.9,823.5ZM594.1,875.4L590.9,881.1L584.4,881.1L581.1,875.4L584.4,869.8L590.9,869.8ZM594.1,898.6L590.9,904.2L584.4,904.2L581.1,898.6L584.4,893.0L590.9,893.0ZM614.2,401.1L610.9,406.7L604.4,406.7L601.2,401.1L604.4,395.4L610.9,395.4ZM614.2,424.2L610.9,429.8L604.4,429.8L601.2,424.2L604.4,418.6L610.9,418.6ZM614.2,447.3L610.9,453.0L604.4,453.0L601.2,447.3L604.4,441.7L610.9,441.7ZM614.2,470.5L610.9,476.1L604.4,476.1L601.2,470.5L604.4,464.9L610.9,464.9ZM614.2,493.6L610.9,499.3L604.4,499.3L601.2,493.6L604.4,488.0L610.9,488.0ZM614.2,516.8L610.9,522.4L604.4,522.4L601.2,516.8L604.4,511.1L610.9,511.1ZM614.2,539.9L610.9,545.5L604.4,545.5L601.2,539.9L604.4,534.3L610.9,534.3ZM614.2,563.1L610.9,568.7L604.4,568.7L601.2,563.1L604.4,557.4L610.9,557.4ZM614.2,794.5L610.9,800.1L604.4,800.1L601.2,794.5L604.4,788.8L610.9,788.8ZM614.2,817.6L610.9,823.2L604.4,823.2L601.2,817.6L604.4,812.0L610.9,812.0ZM614.2,840.7L610.9,846.4L604.4,846.4L601.2,840.7L604.4,835.1L610.9,835.1ZM614.2,863.9L610.9,869.5L604.4,869.5L601.2,863.9L604.4,858.2L610.9,858.2ZM614.2,887.0L610.9,892.6L604.4,892.6L601.2,887.0L604.4,881.4L610.9,881.4ZM614.2,910.2L610.9,915.8L604.4,915.8L601.2,910.2L604.4,904.5L610.9,904.5ZM634.2,389.5L631.0,395.1L624.5,395.1L621.2,389.5L624.5,383.9L631.0,383.9ZM634.2,412.6L631.0,418.3L624.5,418.3L621.2,412.6L624.5,407.0L631.0,407.0ZM634.2,435.8L631.0,441.4L624.5,441.4L621.2,435.8L624.5,430.2L631.0,430.2ZM634.2,458.9L631.0,464.5L624.5,464.5L621.2,458.9L624.5,453.3L631.0,453.3ZM634.2,482.1L631.0,487.7L624.5,487.7L621.2,482.1L624.5,476.4L631.0,476.4ZM634.2,505.2L631.0,510.8L624.5,510.8L621.2,505.2L624.5,499.6L631.0,499.6ZM634.2,528.3L631.0,534.0L624.5,534.0L621.2,528.3L624.5,522.7L631.0,522.7ZM634.2,551.5L631.0,557.1L624.5,557.1L621.2,551.5L624.5,545.9L631.0,545.9ZM634.2,620.9L631.0,626.5L624.5,626.5L621.2,620.9L624.5,615.3L631.0,615.3ZM634.2,644.0L631.0,649.7L624.5,649.7L621.2,644.0L624.5,638.4L631.0,638.4ZM634.2,782.9L631.0,788.5L624.5,788.5L621.2,782.9L624.5,777.3L631.0,777.3ZM634.2,806.0L631.0,811.6L624.5,811.6L621.2,806.0L624.5,800.4L631.0,800.4ZM634.2,829.2L631.0,834.8L624.5,834.8L621.2,829.2L624.5,823.5L631.0,823.5ZM634.2,875.4L631.0,881.1L624.5,881.1L621.2,875.4L624.5,869.8L631.0,869.8ZM634.2,898.6L631.0,904.2L624.5,904.2L621.2,898.6L624.5,893.0L631.0,893.0ZM654.3,493.6L651.0,499.3L644.5,499.3L641.3,493.6L644.5,488.0L651.0,488.0ZM654.3,516.8L651.0,522.4L644.5,522.4L641.3,516.8L644.5,511.1L651.0,511.1ZM654.3,539.9L651.0,545.5L644.5,545.5L641.3,539.9L644.5,534.3L651.0,534.3ZM654.3,609.3L651.0,615.0L644.5,615.0L641.3,609.3L644.5,603.7L651.0,603.7ZM654.3,632.5L651.0,638.1L644.5,638.1L641.3,632.5L644.5,626.8L651.0,626.8ZM654.3,655.6L651.0,661.2L644.5,661.2L641.3,655.6L644.5,650.0L651.0,650.0ZM654.3,794.5L651.0,800.1L644.5,800.1L641.3,794.5L644.5,788.8L651.0,788.8ZM654.3,817.6L651.0,823.2L644.5,823.2L641.3,817.6L644.5,812.0L651.0,812.0ZM654.3,840.7L651.0,846.4L644.5,846.4L641.3,840.7L644.5,835.1L651.0,835.1ZM654.3,863.9L651.0,869.5L644.5,869.5L641.3,863.9L644.5,858.2L651.0,858.2ZM654.3,887.0L651.0,892.6L644.5,892.6L641.3,887.0L644.5,881.4L651.0,881.4ZM654.3,910.2L651.0,915.8L644.5,915.8L641.3,910.2L644.5,904.5L651.0,904.5ZM674.3,505.2L671.0,510.8L664.5,510.8L661.3,505.2L664.5,499.6L671.0,499.6ZM674.3,528.3L671.0,534.0L664.5,534.0L661.3,528.3L664.5,522.7L671.0,522.7ZM674.3,620.9L671.0,626.5L664.5,626.5L661.3,620.9L664.5,615.3L671.0,615.3ZM674.3,644.0L671.0,649.7L664.5,649.7L661.3,644.0L664.5,638.4L671.0,638.4ZM674.3,875.4L671.0,881.1L664.5,881.1L661.3,875.4L664.5,869.8L671.0,869.8ZM674.3,898.6L671.0,904.2L664.5,904.2L661.3,898.6L664.5,893.0L671.0,893.0ZM694.3,493.6L691.1,499.3L684.6,499.3L681.3,493.6L684.6,488.0L691.1,488.0ZM694.3,516.8L691.1,522.4L684.6,522.4L681.3,516.8L684.6,511.1L691.1,511.1ZM694.3,539.9L691.1,545.5L684.6,545.5L681.3,539.9L684.6,534.3L691.1,534.3ZM694.3,609.3L691.1,615.0L684.6,615.0L681.3,609.3L684.6,603.7L691.1,603.7ZM694.3,632.5L691.1,638.1L684.6,638.1L681.3,632.5L684.6,626.8L691.1,626.8ZM694.3,655.6L691.1,661.2L684.6,661.2L681.3,655.6L684.6,650.0L691.1,650.0ZM694.3,863.9L691.1,869.5L684.6,869.5L681.3,863.9L684.6,858.2L691.1,858.2ZM694.3,887.0L691.1,892.6L684.6,892.6L681.3,887.0L684.6,881.4L691.1,881.4ZM694.3,910.2L691.1,915.8L684.6,915.8L681.3,910.2L684.6,904.5L691.1,904.5ZM714.4,505.2L711.1,510.8L704.6,510.8L701.4,505.2L704.6,499.6L711.1,499.6ZM714.4,528.3L711.1,534.0L704.6,534.0L701.4,528.3L704.6,522.7L711.1,522.7Z"/>
<path d="M268.82,420.44L275.44,418.58L282.07,416.78L288.72,415.03L295.38,413.35L302.06,411.72L308.75,410.15L315.46,408.64L322.18,407.19L328.91,405.8L335.65,404.47L342.4,403.19L349.17,401.98L355.94,400.82L362.73,399.72L369.52,398.69L376.33,397.71L383.14,396.79L389.96,395.93L396.78,395.13L403.62,394.39L410.46,393.71L417.3,393.09L424.15,392.54L431.01,392.04L437.87,391.6L444.73,391.22L451.6,390.9L458.46,390.64L465.33,390.44L472.21,390.3L479.08,390.22L485.95,390.2L492.83,390.24L499.7,390.34L506.57,390.5L513.44,390.73L520.31,391.01L527.17,391.35L534.03,391.75L540.89,392.21L547.74,392.73L554.59,393.32L561.44,393.96L568.27,394.66L575.1,395.42L581.93,396.24L588.75,397.12L595.55,398.06L602.35,399.06L609.15,400.12L615.93,401.24L622.7,402.42L629.46,403.65L636.21,404.95L625.49,459.51L619.22,458.31L612.94,457.16L606.64,456.06L600.34,455.02L594.03,454.04L587.71,453.11L581.38,452.23L575.05,451.42L568.71,450.65L562.36,449.95L556.01,449.29L549.65,448.7L543.29,448.16L536.92,447.67L530.54,447.24L524.17,446.87L517.79,446.55L511.41,446.29L505.02,446.09L498.64,445.94L492.25,445.84L485.87,445.8L479.48,445.82L473.09,445.89L466.71,446.02L460.32,446.21L453.94,446.45L447.56,446.75L441.18,447.1L434.81,447.51L428.44,447.97L422.07,448.49L415.71,449.07L409.36,449.7L403.01,450.39L396.66,451.13L390.33,451.93L384,452.78L377.68,453.69L371.36,454.65L365.06,455.67L358.76,456.74L352.48,457.87L346.2,459.06L339.93,460.3L333.68,461.59L327.44,462.94L321.21,464.34L314.99,465.8L308.78,467.31L302.59,468.88L296.41,470.5L290.25,472.17L284.1,473.9Z"/>
<path d="M290.47,496.21L296.42,494.54L302.39,492.92L308.37,491.35L314.37,489.83L320.38,488.37L326.4,486.95L332.43,485.6L338.47,484.29L344.53,483.04L350.6,481.84L356.67,480.69L362.76,479.6L368.86,478.56L374.96,477.57L381.07,476.64L387.2,475.76L393.32,474.93L399.46,474.16L405.6,473.44L411.75,472.77L417.9,472.16L424.06,471.6L430.23,471.1L436.39,470.65L442.57,470.26L448.74,469.91L454.92,469.63L461.1,469.39L467.28,469.21L473.46,469.09L479.65,469.02L485.83,469L492.01,469.04L498.2,469.13L504.38,469.27L510.56,469.47L516.74,469.73L522.92,470.03L529.09,470.39L535.26,470.81L541.43,471.28L547.59,471.8L553.74,472.38L559.9,473.01L566.04,473.7L572.18,474.43L578.32,475.23L584.44,476.07L590.56,476.97L596.67,477.92L602.77,478.93L608.86,479.99L614.95,481.1L621.02,482.27L608.71,544.87L603.19,543.81L597.65,542.8L592.11,541.83L586.56,540.92L581,540.05L575.43,539.23L569.86,538.46L564.28,537.74L558.7,537.07L553.1,536.45L547.51,535.87L541.91,535.35L536.3,534.87L530.69,534.44L525.08,534.07L519.46,533.74L513.84,533.46L508.22,533.23L502.6,533.05L496.97,532.91L491.35,532.83L485.72,532.8L480.1,532.81L474.47,532.88L468.85,532.99L463.22,533.16L457.6,533.37L451.98,533.63L446.37,533.94L440.75,534.3L435.14,534.71L429.53,535.17L423.93,535.67L418.33,536.23L412.74,536.84L407.15,537.49L401.57,538.19L395.99,538.94L390.43,539.74L384.86,540.59L379.31,541.49L373.76,542.44L368.23,543.43L362.7,544.48L357.18,545.57L351.67,546.71L346.17,547.89L340.68,549.13L335.21,550.41L329.74,551.75L324.29,553.13L318.85,554.55L313.42,556.03L308,557.55Z"/>
<path d="M323.28,611.01L328.23,609.62L333.19,608.27L338.16,606.97L343.14,605.71L348.13,604.49L353.14,603.32L358.15,602.19L363.18,601.1L368.21,600.06L373.25,599.07L378.3,598.11L383.36,597.2L388.43,596.34L393.5,595.52L398.58,594.74L403.67,594.01L408.76,593.33L413.86,592.68L418.96,592.09L424.07,591.53L429.19,591.03L434.31,590.56L439.43,590.15L444.55,589.77L449.68,589.44L454.81,589.16L459.95,588.92L465.08,588.73L470.22,588.58L475.36,588.47L480.5,588.41L485.64,588.4L490.78,588.43L495.92,588.51L501.05,588.63L506.19,588.79L511.33,589L516.46,589.26L521.59,589.56L526.72,589.9L531.84,590.29L536.96,590.73L542.08,591.21L547.19,591.73L552.3,592.3L557.4,592.92L562.5,593.58L567.59,594.28L572.68,595.03L577.75,595.82L582.82,596.65L587.89,597.54L592.94,598.46L597.99,599.43L588.15,649.47L583.54,648.59L578.92,647.74L574.3,646.94L569.67,646.17L565.03,645.45L560.39,644.77L555.74,644.13L551.09,643.52L546.43,642.96L541.76,642.44L537.1,641.96L532.42,641.53L527.75,641.13L523.07,640.77L518.38,640.46L513.7,640.18L509.01,639.95L504.32,639.76L499.63,639.61L494.94,639.5L490.25,639.43L485.56,639.4L480.86,639.41L476.17,639.47L471.48,639.56L466.79,639.7L462.1,639.88L457.41,640.09L452.72,640.35L448.04,640.65L443.36,641L438.68,641.38L434.01,641.8L429.34,642.26L424.67,642.77L420.01,643.31L415.35,643.9L410.7,644.53L406.06,645.2L401.42,645.9L396.79,646.65L392.16,647.44L387.54,648.27L382.93,649.14L378.33,650.05L373.73,651L369.14,652L364.56,653.03L360,654.1L355.44,655.21L350.89,656.36L346.35,657.55L341.82,658.78L337.3,660.05Z"/>
<path d="M343.56,681.97L347.89,680.75L352.22,679.58L356.57,678.44L360.93,677.33L365.29,676.27L369.67,675.24L374.05,674.26L378.44,673.31L382.84,672.4L387.25,671.53L391.67,670.69L396.09,669.9L400.52,669.14L404.96,668.42L409.4,667.75L413.85,667.11L418.3,666.51L422.76,665.95L427.22,665.42L431.69,664.94L436.16,664.5L440.64,664.09L445.12,663.72L449.6,663.4L454.08,663.11L458.57,662.86L463.06,662.65L467.55,662.48L472.04,662.35L476.53,662.26L481.03,662.21L485.52,662.2L490.02,662.22L494.51,662.29L499,662.4L503.49,662.54L507.98,662.72L512.47,662.95L516.96,663.21L521.44,663.51L525.92,663.85L530.4,664.23L534.87,664.65L539.34,665.11L543.81,665.61L548.27,666.15L552.73,666.72L557.18,667.34L561.63,667.99L566.07,668.68L570.5,669.41L574.93,670.18L579.35,670.99L583.76,671.84L573.34,724.83L569.39,724.07L565.44,723.35L561.47,722.66L557.51,722L553.53,721.38L549.55,720.8L545.57,720.25L541.58,719.73L537.59,719.25L533.59,718.81L529.59,718.4L525.59,718.02L521.58,717.68L517.57,717.38L513.56,717.11L509.55,716.87L505.53,716.67L501.51,716.51L497.49,716.38L493.47,716.28L489.45,716.22L485.43,716.2L481.41,716.21L477.39,716.26L473.37,716.34L469.35,716.45L465.33,716.61L461.32,716.79L457.3,717.02L453.29,717.27L449.28,717.57L445.27,717.89L441.26,718.25L437.26,718.65L433.26,719.08L429.27,719.55L425.28,720.05L421.3,720.59L417.32,721.16L413.34,721.77L409.37,722.41L405.41,723.09L401.45,723.8L397.5,724.55L393.55,725.33L389.62,726.14L385.68,726.99L381.76,727.87L377.85,728.79L373.94,729.74L370.04,730.73L366.15,731.75L362.27,732.8L358.4,733.89Z"/>
<path d="M375.22,792.74L378.58,791.8L381.94,790.88L385.31,790L388.69,789.14L392.08,788.32L395.47,787.52L398.87,786.76L402.28,786.02L405.69,785.31L409.11,784.64L412.54,783.99L415.97,783.38L419.4,782.79L422.84,782.23L426.29,781.71L429.74,781.21L433.2,780.74L436.65,780.31L440.12,779.9L443.58,779.53L447.05,779.18L450.52,778.87L454,778.59L457.47,778.33L460.95,778.11L464.43,777.92L467.91,777.75L471.4,777.62L474.88,777.52L478.37,777.45L481.85,777.41L485.34,777.4L488.82,777.42L492.31,777.47L495.79,777.56L499.28,777.67L502.76,777.81L506.24,777.98L509.72,778.19L513.2,778.42L516.68,778.69L520.15,778.98L523.62,779.31L527.09,779.66L530.55,780.05L534.01,780.46L537.47,780.91L540.92,781.39L544.37,781.89L547.81,782.43L551.25,783L554.69,783.6L558.12,784.22L561.54,784.88L551.82,834.33L548.83,833.76L545.83,833.21L542.83,832.69L539.83,832.19L536.82,831.72L533.81,831.28L530.79,830.86L527.77,830.47L524.75,830.11L521.72,829.77L518.7,829.46L515.66,829.18L512.63,828.92L509.59,828.69L506.56,828.48L503.52,828.31L500.48,828.16L497.43,828.03L494.39,827.93L491.35,827.86L488.3,827.82L485.26,827.8L482.21,827.81L479.17,827.84L476.12,827.9L473.08,827.99L470.04,828.11L467,828.25L463.96,828.42L460.92,828.61L457.88,828.83L454.85,829.08L451.81,829.36L448.78,829.66L445.76,829.99L442.73,830.34L439.71,830.72L436.69,831.13L433.68,831.56L430.67,832.02L427.66,832.51L424.66,833.02L421.67,833.56L418.67,834.12L415.69,834.71L412.71,835.33L409.73,835.97L406.76,836.64L403.79,837.34L400.84,838.06L397.88,838.81L394.94,839.58L392,840.38L389.07,841.2Z"/>
<path d="M395.72,864.47L398.45,863.7L401.18,862.96L403.92,862.24L406.67,861.55L409.42,860.88L412.18,860.23L414.94,859.61L417.71,859.01L420.49,858.43L423.27,857.89L426.05,857.36L428.84,856.86L431.63,856.38L434.43,855.93L437.23,855.5L440.03,855.1L442.84,854.72L445.65,854.37L448.46,854.04L451.28,853.73L454.1,853.45L456.92,853.2L459.74,852.97L462.57,852.76L465.4,852.58L468.23,852.42L471.06,852.29L473.89,852.18L476.72,852.1L479.55,852.04L482.38,852.01L485.22,852L488.05,852.02L490.88,852.06L493.71,852.13L496.55,852.22L499.38,852.33L502.21,852.48L505.03,852.64L507.86,852.83L510.69,853.05L513.51,853.29L516.33,853.55L519.15,853.84L521.96,854.15L524.78,854.49L527.59,854.85L530.39,855.24L533.2,855.65L535.99,856.09L538.79,856.55L541.58,857.04L544.37,857.55L547.15,858.08L536.87,910.38L534.55,909.93L532.22,909.51L529.89,909.1L527.55,908.72L525.21,908.35L522.87,908.01L520.53,907.68L518.18,907.38L515.83,907.1L513.48,906.84L511.12,906.59L508.77,906.37L506.41,906.17L504.05,905.99L501.69,905.83L499.33,905.7L496.96,905.58L494.6,905.48L492.23,905.4L489.87,905.35L487.5,905.31L485.13,905.3L482.77,905.31L480.4,905.33L478.03,905.38L475.67,905.45L473.3,905.54L470.94,905.65L468.58,905.78L466.21,905.93L463.85,906.1L461.5,906.3L459.14,906.51L456.78,906.74L454.43,907L452.08,907.27L449.73,907.57L447.39,907.88L445.04,908.22L442.7,908.58L440.37,908.96L438.04,909.35L435.71,909.77L433.38,910.21L431.06,910.67L428.74,911.15L426.43,911.65L424.12,912.17L421.82,912.71L419.52,913.27L417.22,913.85L414.93,914.45L412.65,915.07L410.37,915.71Z"/>
<path d="M229,519.5H278.5V556.5H229Z"/>
<path d="M642.5,507.5H712.5V536.5H642.5Z"/>
<path d="M242.5,609.5H294.5V713H242.5Z"/>
<path d="M628.5,615.5H684.5V651.3H628.5Z"/>
<path d="M285.5,807.7H350.5V852.5H285.5Z"/>
<path d="M587.6,794.5H642.5V836.5H587.6Z"/>
<path d="M212.5,731.5H339.5V759.3H212.5Z"/>
<path d="M568.5,873.5H694.5V901.3H568.5Z"/>
<path d="M239,385.6L365,359L369,388L246,414Z"/>
</g>
<g fill="none" stroke="#0ff" stroke-width="3">
<path clip-path="url(#cc0)" d="M223,491.55L254,460.55M223,500.15L254,469.15M223,508.75L254,477.75M223,517.35L254,486.35M223,525.95L254,494.95M223,534.55L254,503.55M223,543.15L254,512.15M223,551.75L254,520.75M223,560.35L254,529.35M223,568.95L254,537.95M223,577.55L254,546.55M223,586.15L254,555.15M223,594.75L254,563.75M223,603.35L254,572.35M223,611.95L254,580.95"/>
<rect x="226.5" y="501.5" width="24" height="67"/>
<path clip-path="url(#cc1)" d="M684,486.35L708,462.35M684,494.95L708,470.95M684,503.55L708,479.55M684,512.15L708,488.15M684,520.75L708,496.75M684,529.35L708,505.35M684,537.95L708,513.95M684,546.55L708,522.55M684,555.15L708,531.15M684,563.75L708,539.75M684,572.35L708,548.35M684,580.95L708,556.95"/>
<rect x="687.5" y="495.5" width="17" height="53"/>
<path clip-path="url(#cc2)" d="M228.2,598.15L290,536.35M228.2,606.75L290,544.95M228.2,615.35L290,553.55M228.2,623.95L290,562.15M228.2,632.55L290,570.75M228.2,641.15L290,579.35M228.2,649.75L290,587.95M228.2,658.35L290,596.55M228.2,666.95L290,605.15M228.2,675.55L290,613.75M228.2,684.15L290,622.35M228.2,692.75L290,630.95M228.2,701.35L290,639.55M228.2,709.95L290,648.15M228.2,718.55L290,656.75M228.2,727.15L290,665.35M228.2,735.75L290,673.95M228.2,744.35L290,682.55M228.2,752.95L290,691.15M228.2,761.55L290,699.75M228.2,770.15L290,708.35M228.2,778.75L290,716.95M228.2,787.35L290,725.55"/>
<rect x="231.7" y="609.5" width="54.8" height="105"/>
<path clip-path="url(#cc3)" d="M660,596.35L679,577.35M660,604.95L679,585.95M660,613.55L679,594.55M660,622.15L679,603.15M660,630.75L679,611.75M660,639.35L679,620.35M660,647.95L679,628.95M660,656.55L679,637.55M660,665.15L679,646.15M660,673.75L679,654.75M660,682.35L679,663.35M660,690.95L679,671.95"/>
<rect x="663.5" y="607.5" width="12" height="53"/>
<path clip-path="url(#cc4)" d="M293.6,790.75L317,767.35M293.6,799.35L317,775.95M293.6,807.95L317,784.55M293.6,816.55L317,793.15M293.6,825.15L317,801.75M293.6,833.75L317,810.35M293.6,842.35L317,818.95M293.6,850.95L317,827.55M293.6,859.55L317,836.15M293.6,868.15L317,844.75M293.6,876.75L317,853.35M293.6,885.35L317,861.95M293.6,893.95L317,870.55"/>
<rect x="297.1" y="804.5" width="16.4" height="53"/>
</g>
<g fill="none" stroke="#f00" stroke-width="3" stroke-linejoin="miter" stroke-linecap="square">
<path d="M267.5,229.5H309.5V296.5H267.5Z"/>
<path d="M327.5,240.5H367.5V296.5H327.5Z"/>
<path d="M383.5,229.5H425.5V296.5H383.5Z"/>
<path d="M441.5,229.5H483.5V296.5H441.5Z"/>
<path d="M499.5,240.5H541.5V296.5H499.5Z"/>
<path d="M556.5,229.5H598.5V296.5H556.5Z"/>
<path d="M672.5,232.5H714.5V299.5H672.5Z"/>
<path d="M267.5,296.5V323"/>
<path d="M259,335L188.5,357.4V885.5H318.7L321.26,884.05L323.83,882.61L326.41,881.2L329,879.82L331.61,878.45L334.23,877.11L336.86,875.79L339.5,874.5L342.15,873.22L344.81,871.98L347.49,870.75L350.17,869.55L352.87,868.37L355.57,867.22L358.29,866.09L361.02,864.98L363.75,863.9L366.5,862.84L369.25,861.81L372.01,860.8L374.78,859.81L377.56,858.85L380.35,857.91L383.15,857L385.95,856.11L388.77,855.25L391.59,854.41L394.41,853.6L397.25,852.81L400.09,852.04L402.93,851.3L405.79,850.59L408.65,849.9L411.51,849.24L414.39,848.6L417.26,847.99L420.14,847.4L423.03,846.84L425.92,846.3L428.82,845.79L431.72,845.3L434.63,844.84L437.54,844.41L440.45,844L443.37,843.61L446.29,843.25L449.21,842.92L452.13,842.61L455.06,842.33L457.99,842.08L460.93,841.85L463.86,841.64L466.8,841.47L469.73,841.31L472.67,841.19L475.61,841.09L478.55,841.01L481.5,840.96L484.44,840.94L487.38,840.94L490.32,840.97L493.26,841.02L496.2,841.1L499.14,841.21L502.08,841.34L505.02,841.5L507.95,841.68L510.89,841.89L513.82,842.13L516.75,842.39L519.68,842.67L522.6,842.98L525.53,843.32L528.44,843.69L531.36,844.07L534.27,844.49L537.18,844.93L540.09,845.4L542.99,845.89L545.88,846.4L548.77,846.94L551.66,847.51L554.54,848.11L557.42,848.72L560.29,849.37L563.15,850.03L566.01,850.73L568.86,851.45L571.71,852.19L574.55,852.96L577.38,853.75L580.21,854.57L583.03,855.41L585.84,856.28L588.64,857.18L591.43,858.09L594.22,859.03L597,860H663.5V845.6"/>
<path d="M383.5,229.5L376,219.5H316.5V348L201.5,370.1V724.5H208.5"/>
<path d="M367.8,296.5L372.6,356.5"/>
<path d="M556.5,229.5V219.5H483.5V333.5L686.5,400V477.5H656L649.86,476.03L643.72,474.62L637.55,473.26L631.38,471.96L625.2,470.71L619,469.51L612.8,468.37L606.58,467.28L600.36,466.25L594.13,465.27L587.89,464.35L581.64,463.48L575.38,462.66L569.12,461.91L562.85,461.2L556.57,460.55L550.29,459.96L544,459.42L537.71,458.94L531.42,458.51L525.12,458.14L518.82,457.82L512.52,457.56L506.21,457.36L499.9,457.21L493.6,457.11L487.29,457.07L480.98,457.09L474.67,457.16L468.36,457.28L462.05,457.46L455.75,457.7L449.45,457.99L443.15,458.34L436.85,458.75L430.56,459.2L424.27,459.72L417.99,460.29L411.71,460.91L405.44,461.59L399.17,462.32L392.91,463.11L386.66,463.96L380.42,464.86L374.18,465.81L367.95,466.82L361.73,467.88L355.52,469L349.32,470.17L343.14,471.4L336.96,472.68L330.79,474.02L324.64,475.4L318.5,476.85L312.37,478.35L306.25,479.9L300.15,481.5L294.06,483.16L287.99,484.87L281.93,486.64L275.89,488.45L269.87,490.33L263.86,492.25L257.87,494.23L251.89,496.25L245.94,498.34L240,500.47"/>
<path d="M541.5,296.5V312"/>
<path d="M548.5,323.5L722.5,390.6V586.5"/>
<path d="M598,299L759.5,373.2V607.5H677"/>
<path d="M782.5,357V863.5H705.5"/>
<path d="M228.5,387.4L251.9,381.8L260,421.2L266.63,419.26L273.27,417.37L279.93,415.55L286.61,413.78L293.3,412.07L300.01,410.42L306.73,408.83L313.46,407.3L320.21,405.82L326.97,404.41L333.74,403.05L340.53,401.76L347.32,400.52L354.13,399.35L360.94,398.23L367.77,397.17L374.6,396.18L381.44,395.24L388.29,394.36L395.15,393.55L402.02,392.79L408.89,392.1L415.77,391.46L422.65,390.88L429.54,390.37L436.43,389.91L443.32,389.52L450.22,389.19L457.12,388.91L464.03,388.7L470.93,388.55L477.84,388.46L484.74,388.43L491.65,388.46L498.55,388.55L505.46,388.7L512.36,388.91L519.26,389.18L526.16,389.51L533.06,389.91L539.95,390.36L546.84,390.87L553.72,391.45L560.6,392.08L567.47,392.78L574.33,393.53L581.19,394.35L588.04,395.22L594.88,396.16L601.72,397.16L608.54,398.21L615.36,399.33L622.17,400.5L628.96,401.74L635.74,403.03L642.52,404.38L649.28,405.8L656.03,407.27L662.76,408.8L649.33,466.66L643.04,465.23L636.75,463.86L630.44,462.54L624.11,461.27L617.78,460.07L611.44,458.92L605.08,457.82L598.72,456.79L592.35,455.8L585.97,454.88L579.58,454.01L573.19,453.2L566.79,452.44L560.38,451.74L553.96,451.1L547.54,450.52L541.12,449.99L534.69,449.52L528.25,449.1L521.82,448.75L515.38,448.45L508.94,448.2L502.49,448.02L496.05,447.89L489.6,447.82L483.15,447.8L476.71,447.84L470.26,447.94L463.82,448.1L457.37,448.31L450.93,448.58L444.49,448.91L438.06,449.3L431.63,449.74L425.2,450.24L418.78,450.79L412.36,451.4L405.95,452.07L399.54,452.8L393.14,453.58L386.75,454.42L380.37,455.32L373.99,456.27L367.62,457.28L361.27,458.34L354.92,459.46L348.58,460.64L342.25,461.87L335.94,463.16L329.63,464.51L323.34,465.91L317.06,467.36L310.79,468.88L304.54,470.44L298.3,472.07L292.08,473.75L285.87,475.48L279.67,477.27L273.5,479.11L267.33,481.01L261.19,482.96Z"/>
<path d="M350,361.2L372,356.2L380,387L356,391.2Z"/>
<path d="M216.5,501.5H239.5V568.5H216.5Z"/>
<path d="M266.5,568.5V501.53L272.64,499.57L278.8,497.67L284.98,495.83L291.17,494.04L297.38,492.3L303.61,490.63L309.85,489.01L316.1,487.44L322.37,485.94L328.65,484.49L343.38,549.75L337.55,551.1L331.73,552.5L325.92,553.95L320.13,555.46L314.35,557.02L308.58,558.64L302.83,560.31L297.1,562.03L291.38,563.81L285.68,565.64L280,567.52L280,568.5Z"/>
<path d="M564.78,470.73L571.25,471.5L577.71,472.32L584.17,473.2L590.61,474.15L597.05,475.15L603.48,476.21L609.9,477.33L616.31,478.51L622.7,479.75L629.09,481.05L635.46,482.4L641.82,483.82L648.17,485.29L654.5,486.82V553.3H639.5L634.02,551.94L628.53,550.63L623.02,549.36L617.51,548.15L611.98,546.98L606.44,545.86L600.9,544.79L595.34,543.77L589.78,542.8L584.21,541.88L578.63,541L573.04,540.18L567.45,539.4L561.85,538.68L556.24,538Z"/>
<path d="M722.5,486.5H699.5V553.5H722.5"/>
<path d="M722.5,586.5H660L654.8,584.98L649.59,583.51L644.36,582.08L639.12,580.71L633.87,579.37L628.61,578.08L623.34,576.84L618.05,575.65L612.76,574.5L607.45,573.4L602.14,572.35L596.82,571.34L591.49,570.38L586.15,569.47L580.8,568.6L575.44,567.78L570.08,567.01L564.71,566.29L559.34,565.61L553.96,564.98L548.57,564.4L543.18,563.86L537.79,563.38L532.39,562.94L526.99,562.55L521.58,562.2L516.17,561.9L510.76,561.66L505.35,561.45L499.93,561.3L494.51,561.2L489.1,561.14L483.68,561.13L478.26,561.17L472.85,561.25L467.43,561.38L462.02,561.56L456.61,561.79L451.2,562.07L445.79,562.39L440.38,562.76L434.98,563.18L429.59,563.65L424.19,564.17L418.81,564.73L413.42,565.34L408.05,565.99L402.67,566.7L397.31,567.45L391.95,568.25L386.6,569.09L381.26,569.99L375.92,570.93L370.6,571.91L365.28,572.95L359.97,574.03L354.67,575.16L349.38,576.33L344.11,577.55L338.84,578.82L333.58,580.13L328.34,581.49L323.11,582.9L317.89,584.35L312.69,585.85L307.49,587.39L302.31,588.98L297.15,590.62L292,592.3H221.5V714.5H254.5V609.5H221.5"/>
<path d="M282.5,609.5H322L322,608.68L327.43,607.15L332.88,605.67L338.33,604.24L343.81,602.87L349.29,601.55L354.79,600.28L366.94,654.13L361.91,655.29L356.9,656.5L351.89,657.75L346.9,659.06L341.92,660.41L336.95,661.81L332,663.26L304,714.5H282.5Z"/>
<path d="M550.47,589.48L555.83,590.11L561.19,590.78L566.54,591.5L571.88,592.28L577.21,593.1L582.54,593.97L587.86,594.89L593.17,595.86L598.47,596.87L603.76,597.94L609.04,599.05L614.31,600.21L619.58,601.42L624.82,602.68L630.06,603.99L635.29,605.34L640.5,606.74V660.3H629L624.37,659.06L619.73,657.85L615.08,656.69L610.42,655.57L605.75,654.5L601.07,653.46L596.38,652.47L591.68,651.52L586.98,650.61L582.26,649.74L577.54,648.91L572.81,648.13L568.08,647.39L563.34,646.69L558.59,646.04L553.83,645.43L549.07,644.86L544.31,644.33Z"/>
<path d="M705.5,607.5V660.3H677"/>
<path d="M671.5,609.5V658"/>
<path d="M338.64,681.11L342.97,679.85L347.32,678.63L351.67,677.45L356.04,676.3L360.42,675.19L364.8,674.13L369.2,673.1L373.6,672.11L378.01,671.15L382.43,670.24L386.86,669.36L391.29,668.53L395.73,667.73L400.18,666.97L404.64,666.25L409.1,665.57L413.57,664.93L418.04,664.32L422.52,663.76L427,663.23L431.49,662.75L435.98,662.3L440.48,661.9L444.97,661.53L449.48,661.2L453.98,660.91L458.49,660.66L462.99,660.45L467.5,660.28L472.02,660.15L476.53,660.06L481.04,660.01L485.55,660L490.07,660.02L494.58,660.09L499.09,660.2L503.6,660.34L508.11,660.53L512.62,660.75L517.13,661.02L521.63,661.32L526.13,661.66L530.63,662.04L535.12,662.47L539.61,662.93L544.1,663.43L548.58,663.97L553.05,664.55L557.52,665.16L561.99,665.82L566.45,666.52L570.9,667.25L575.35,668.02L579.79,668.84L584.22,669.69L588.65,670.58L593.06,671.51L597.47,672.47L601.87,673.48L588.42,731.14L584.53,730.25L580.62,729.39L576.71,728.57L572.8,727.78L568.87,727.03L564.94,726.31L561.01,725.62L557.06,724.97L553.12,724.36L549.16,723.78L545.21,723.23L541.24,722.72L537.28,722.24L533.31,721.8L529.33,721.39L525.35,721.02L521.37,720.68L517.39,720.37L513.4,720.11L509.41,719.87L505.42,719.67L501.43,719.51L497.44,719.38L493.44,719.29L489.45,719.23L485.45,719.2L481.46,719.21L477.46,719.26L473.47,719.34L469.48,719.46L465.48,719.61L461.49,719.79L457.5,720.01L453.52,720.27L449.53,720.56L445.55,720.88L441.57,721.24L437.59,721.64L433.62,722.07L429.65,722.53L425.69,723.03L421.73,723.56L417.77,724.13L413.82,724.74L409.88,725.37L405.94,726.04L402.01,726.75L398.08,727.49L394.16,728.27L390.25,729.08L386.35,729.92L382.45,730.8L378.56,731.71L374.68,732.65L370.8,733.63L366.94,734.65L363.08,735.69L359.24,736.78L355.4,737.89L352.5,765.3H326.5V721.5Z"/>
<path d="M208.5,724.5H225.5V765.3H208.5Z"/>
<path d="M705.5,660V765.4H581L577.41,764.58L573.82,763.8L570.22,763.04L566.62,762.32L563.01,761.63L559.39,760.97L555.76,760.34L552.14,759.75L548.5,759.18L544.86,758.65L541.22,758.15L537.57,757.68L533.92,757.24L530.27,756.83L526.61,756.46L522.95,756.12L519.28,755.81L515.61,755.53L511.95,755.29L508.27,755.07L504.6,754.89L500.93,754.74L497.25,754.63L493.57,754.54L489.9,754.49L486.22,754.47L482.54,754.48L478.87,754.52L475.19,754.6L471.51,754.7L467.84,754.84L464.17,755.02L460.49,755.22L456.82,755.46L453.16,755.72L449.49,756.02L445.83,756.36L442.17,756.72L438.51,757.12L434.86,757.54L431.21,758L427.57,758.5L423.93,759.02L420.29,759.57L416.66,760.16L413.04,760.78L409.42,761.43L405.8,762.11L402.2,762.83L398.59,763.57L395,764.35L391.41,765.16L387.83,765.99L384.26,766.86L380.69,767.77L377.14,768.7L373.59,769.66L370.05,770.66L366.52,771.68L362.99,772.74L359.48,773.83L355.98,774.94L352.48,776.09L349,777.27H267.5V860.4H301.5V805H267.5"/>
<path d="M334.5,860.4V804.86L337.86,803.52L341.23,802.2L344.61,800.92L348.01,799.67L351.41,798.45L354.83,797.26L358.26,796.1L361.7,794.97L365.14,793.88L368.6,792.81L372.07,791.78L375.55,790.77L379.03,789.8L382.52,788.86L386.03,787.95L389.54,787.08L393.05,786.23L396.58,785.42L408.47,838.1L405.46,838.79L402.45,839.52L399.45,840.26L396.46,841.04L393.47,841.84L390.49,842.67L387.52,843.52L384.55,844.4L381.6,845.31L378.65,846.24L375.71,847.21L372.78,848.19L369.86,849.2L366.94,850.24L364.04,851.31L361.15,852.4L358.26,853.51L355.39,854.66L352.53,855.82L349.67,857.02L346.83,858.24L344,859.48L344,860.4Z"/>
<path d="M529.22,778.89L532.79,779.31L536.35,779.75L539.91,780.23L543.46,780.75L547.01,781.29L550.56,781.87L554.1,782.47L557.63,783.11L561.16,783.79L564.68,784.49L568.2,785.22L571.71,785.99L575.21,786.79L578.7,787.62L582.19,788.48L585.67,789.37L589.14,790.29L592.6,791.25L596.06,792.23L599.5,793.25V845.6H588L584.99,844.66L581.97,843.75L578.94,842.87L575.9,842.01L572.85,841.18L569.8,840.38L566.74,839.61L563.67,838.87L560.6,838.15L557.52,837.46L554.43,836.8L551.34,836.17L548.24,835.57L545.14,834.99L542.03,834.45L538.92,833.93L535.8,833.44L532.68,832.97L529.55,832.54L526.42,832.14L523.29,831.76Z"/>
<path d="M630.5,792.5H663.5V845.6H630.5Z"/>
<path d="M379.78,866.72L382.48,865.82L385.19,864.94L387.91,864.08L390.63,863.25L393.36,862.44L396.1,861.65L398.85,860.89L401.6,860.15L404.35,859.44L407.12,858.75L409.89,858.09L412.66,857.45L415.44,856.83L418.23,856.24L421.02,855.67L423.82,855.13L426.62,854.61L429.42,854.11L432.23,853.64L435.05,853.2L437.86,852.77L440.69,852.38L443.51,852.01L446.34,851.66L449.17,851.34L452,851.04L454.84,850.77L457.67,850.52L460.51,850.29L463.35,850.1L466.2,849.92L469.04,849.77L471.89,849.65L474.74,849.55L477.58,849.47L480.43,849.42L483.28,849.4L486.13,849.4L488.98,849.42L491.82,849.47L494.67,849.55L497.52,849.65L500.36,849.77L503.21,849.92L506.05,850.1L508.89,850.29L511.73,850.52L514.57,850.77L517.41,851.04L520.24,851.34L523.07,851.66L525.9,852.01L528.72,852.38L531.54,852.77L534.36,853.2L537.17,853.64L539.98,854.11L542.79,854.61L545.59,855.13L548.38,855.67L551.18,856.24L553.96,856.83L556.74,857.45L559.52,858.09L562.29,858.75L565.05,859.44L567.81,860.15L570.56,860.89L573.31,861.65L576.04,862.44L578.78,863.25L581.5,864.08V917.2H555L552.74,916.61L550.48,916.03L548.22,915.48L545.95,914.94L543.67,914.43L541.39,913.94L539.11,913.46L536.82,913.01L534.53,912.57L532.23,912.16L529.93,911.76L527.63,911.39L525.32,911.03L523.01,910.7L520.7,910.38L518.39,910.09L516.07,909.82L513.75,909.56L511.43,909.33L509.11,909.12L506.78,908.92L504.46,908.75L502.13,908.6L499.8,908.47L497.47,908.36L495.14,908.27L492.81,908.2L490.47,908.15L488.14,908.12L485.81,908.11L483.48,908.12L481.14,908.15L478.81,908.2L476.48,908.27L474.15,908.36L471.82,908.47L469.49,908.61L467.16,908.76L464.84,908.93L462.51,909.13L460.19,909.34L457.87,909.58L455.55,909.83L453.23,910.11L450.92,910.4L448.61,910.72L446.3,911.05L443.99,911.41L441.69,911.78L439.39,912.18L437.09,912.59L434.8,913.03L432.51,913.48L430.23,913.96L427.95,914.46L425.68,914.97L423.41,915.51L421.14,916.06L418.88,916.64L416.62,917.23L414.37,917.84L412.13,918.48L409.89,919.13L407.65,919.8L405.43,920.5L403.2,921.21L400.99,921.94L398.78,922.69Z"/>
<path d="M682.5,863.5H705.5V917.2H682.5Z"/>
<path d="M714.5,299.5L782.3,357" stroke-width="3.8" stroke-linecap="butt"/>
</g>
<circle cx="267.7" cy="331.7" r="8.4" fill="#fff" stroke="#f00" stroke-width="3"/>
<circle cx="267.7" cy="331.7" r="4.2" fill="#fff" stroke="#0f0" stroke-width="4.4"/>
<circle cx="541" cy="320.3" r="8.4" fill="#fff" stroke="#f00" stroke-width="3"/>
<circle cx="541" cy="320.3" r="4.2" fill="#fff" stroke="#0f0" stroke-width="4.4"/>
<circle cx="639.75" cy="274" r="10.2" fill="#fff" stroke="#f00" stroke-width="3"/>
<circle cx="639.75" cy="274" r="5.7" fill="#fff" stroke="#00f" stroke-width="4"/>
<circle cx="250" cy="934" r="10.2" fill="#fff" stroke="#f00" stroke-width="3"/>
<circle cx="250" cy="934" r="7.6" fill="#00f"/>
<circle cx="249.3" cy="933.4" r="1.7" fill="#fff"/>
<path d="M211.5,209.5H758.5V316.5A28 28 0 0 0 786.5,344.5H790.5V935.5H786.5A28 28 0 0 0 758.5,963.5V967.5H211.5V963.5A28 28 0 0 0 183.5,935.5H180.5V344.5H183.5A28 28 0 0 0 211.5,316.5Z" fill="none" stroke="#f0f" stroke-width="3"/>
<path d="M232.4,60L325.5,471.8M612.6,39.2L565.5,457.7M237.8,86.2L330,69M516,59L609.6,65.9M72,209.4H199M72,967.5H199M98.5,210V563M98.5,613V967M180.5,948V1074.5M790.5,948V1074.5M180.5,1049.5H790.5M98.5,210L95.2,226H101.8ZM98.5,967L95.2,951H101.8ZM180.5,1049.5L197.5,1046.3V1052.7ZM790.5,1049.5L773.5,1046.3V1052.7ZM237.8,86.2L254.5,86.5L253,80ZM609.6,65.9L593,61.5L592.5,67.8Z" fill="none" stroke="#000" stroke-width="1"/>
<g filter="url(#th)">
<text transform="translate(330.37 79.05) scale(0.700 1.016)" font-size="60" style="font-family:'DejaVu Sans Light','DejaVu Sans','Liberation Sans',sans-serif;font-weight:200" fill="#000" stroke="#000" stroke-width="1.1">1</text>
<text transform="translate(360.45 78.16) scale(1.042 0.986)" font-size="60" style="font-family:'DejaVu Sans Light','DejaVu Sans','Liberation Sans',sans-serif;font-weight:200" fill="#000" stroke="#000" stroke-width="1.1">9</text>
<text transform="translate(400.4 77.25) scale(1.300 1.333)" font-size="60" style="font-family:'DejaVu Sans Light','DejaVu Sans','Liberation Sans',sans-serif;font-weight:200" fill="#000" stroke="#000" stroke-width="1.1">,</text>
<text transform="translate(423.38 79.05) scale(1.039 1.006)" font-size="60" style="font-family:'DejaVu Sans Light','DejaVu Sans','Liberation Sans',sans-serif;font-weight:200" fill="#000" stroke="#000" stroke-width="1.1">2</text>
<text transform="translate(460.04 78.16) scale(1.149 0.986)" font-size="60" style="font-family:'DejaVu Sans Light','DejaVu Sans','Liberation Sans',sans-serif;font-weight:200" fill="#000" stroke="#000" stroke-width="1.1">0</text>
<text transform="translate(498.55 65.45) scale(0.700 0.722)" font-size="60" style="font-family:'DejaVu Sans Light','DejaVu Sans','Liberation Sans',sans-serif;font-weight:200" fill="#000" stroke="#000" stroke-width="1.1">°</text>
<text transform="translate(58.49 609.77) scale(1.103 0.975)" font-size="60" style="font-family:'DejaVu Sans Light','DejaVu Sans','Liberation Sans',sans-serif;font-weight:200" fill="#000" stroke="#000" stroke-width="1.1">3</text>
<text transform="translate(99.4 609.77) scale(1.035 0.975)" font-size="60" style="font-family:'DejaVu Sans Light','DejaVu Sans','Liberation Sans',sans-serif;font-weight:200" fill="#000" stroke="#000" stroke-width="1.1">6</text>
<text transform="translate(446.82 1045.65) scale(1.079 0.994)" font-size="60" style="font-family:'DejaVu Sans Light','DejaVu Sans','Liberation Sans',sans-serif;font-weight:200" fill="#000" stroke="#000" stroke-width="1.1">2</text>
<text transform="translate(485.8 1044.77) scale(1.017 0.975)" font-size="60" style="font-family:'DejaVu Sans Light','DejaVu Sans','Liberation Sans',sans-serif;font-weight:200" fill="#000" stroke="#000" stroke-width="1.1">9</text>
<text transform="translate(298.91 395.55) scale(0.932 1)" font-size="40.51" font-weight="bold" style="font-family:'Liberation Sans',sans-serif" fill="#000" stroke="#000" stroke-width="0.9" stroke-linejoin="round">A</text>
<text transform="translate(282.4 554.17) scale(0.999 1)" font-size="38.36" font-weight="bold" style="font-family:'Liberation Sans',sans-serif" fill="#000" stroke="#000" stroke-width="0.9" stroke-linejoin="round">a</text>
<text transform="translate(622.11 540.15) scale(0.910 1)" font-size="39.59" font-weight="bold" style="font-family:'Liberation Sans',sans-serif" fill="#000" stroke="#000" stroke-width="0.9" stroke-linejoin="round">b</text>
<text transform="translate(307.96 669.76) scale(0.946 1)" font-size="39.45" font-weight="bold" style="font-family:'Liberation Sans',sans-serif" fill="#000" stroke="#000" stroke-width="0.9" stroke-linejoin="round">c</text>
<text transform="translate(603.98 648.15) scale(0.925 1)" font-size="39.59" font-weight="bold" style="font-family:'Liberation Sans',sans-serif" fill="#000" stroke="#000" stroke-width="0.9" stroke-linejoin="round">d</text>
<text transform="translate(272.46 758.3) scale(0.874 1)" font-size="40.51" font-weight="bold" style="font-family:'Liberation Sans',sans-serif" fill="#000" stroke="#000" stroke-width="0.9" stroke-linejoin="round">B</text>
<text transform="translate(360.77 841.66) scale(1.003 1)" font-size="39.45" font-weight="bold" style="font-family:'Liberation Sans',sans-serif" fill="#000" stroke="#000" stroke-width="0.9" stroke-linejoin="round">e</text>
<text transform="translate(566.98 830.15) scale(1.050 1)" font-size="38.34" font-weight="bold" style="font-family:'Liberation Sans',sans-serif" fill="#000" stroke="#000" stroke-width="0.9" stroke-linejoin="round">f</text>
<text transform="translate(629.58 901.05) scale(0.913 1)" font-size="40.28" font-weight="bold" style="font-family:'Liberation Sans',sans-serif" fill="#000" stroke="#000" stroke-width="0.9" stroke-linejoin="round">C</text>
<text transform="translate(280.57 187.05) scale(0.850 1)" font-size="41.6" font-weight="bold" style="font-family:'Liberation Sans',sans-serif" fill="#000" stroke="#000" stroke-width="0.9" stroke-linejoin="round">1</text>
<text transform="translate(342.98 187.05) scale(1.021 1)" font-size="41" font-weight="bold" style="font-family:'Liberation Sans',sans-serif" fill="#000" stroke="#000" stroke-width="0.9" stroke-linejoin="round">2</text>
<text transform="translate(394.56 186.55) scale(0.978 1)" font-size="40.28" font-weight="bold" style="font-family:'Liberation Sans',sans-serif" fill="#000" stroke="#000" stroke-width="0.9" stroke-linejoin="round">3</text>
<text transform="translate(451.89 187.05) scale(0.903 1)" font-size="41.6" font-weight="bold" style="font-family:'Liberation Sans',sans-serif" fill="#000" stroke="#000" stroke-width="0.9" stroke-linejoin="round">4</text>
<text transform="translate(510.1 186.64) scale(1.015 1)" font-size="41" font-weight="bold" style="font-family:'Liberation Sans',sans-serif" fill="#000" stroke="#000" stroke-width="0.9" stroke-linejoin="round">5</text>
<text transform="translate(567.89 186.65) scale(1.031 1)" font-size="40.42" font-weight="bold" style="font-family:'Liberation Sans',sans-serif" fill="#000" stroke="#000" stroke-width="0.9" stroke-linejoin="round">6</text>
<text transform="translate(681.13 187.05) scale(1.050 1)" font-size="41.6" font-weight="bold" style="font-family:'Liberation Sans',sans-serif" fill="#000" stroke="#000" stroke-width="0.9" stroke-linejoin="round">7</text>
</g>
<path d="M1029.5,455V963M1403.5,455V963M1205.5,323.5H1309.5V374.5H1205.5ZM1309.5,348.5H1337.5M1071.5,431.5H1257.5V482.5H1071.5ZM1205.5,575.5H1309.5V626.5H1205.5ZM1309.5,600.5H1337.5M1071.5,683.5H1257.5V734.5H1071.5ZM1205.5,827.5H1309.5V878.5H1205.5ZM1309.5,853.5H1337.5M1071.5,936.5H1257.5V987.5H1071.5ZM1029.5,456.5H1071.5M1257.5,456.5H1403.5M988,709.5H1071.5M1257.5,709.5H1446.5M1029.5,961.5H1071.5M1257.5,961.5H1403.5" fill="none" stroke="#000" stroke-width="3" stroke-linecap="butt" stroke-linejoin="miter"/>
<path d="M1205.5,348.5H1164.5V430M1164.5,430L1163.5,426L1162.5,417H1161.5V414H1167.5V417H1166.5L1165.5,426ZM1205.5,600.5H1164.5V682M1164.5,682L1163.5,678L1162.5,669H1161.5V666H1167.5V669H1166.5L1165.5,678ZM1205.5,853.5H1164.5V935M1164.5,935L1163.5,931L1162.5,922H1161.5V919H1167.5V922H1166.5L1165.5,931Z" fill="none" stroke="#000" stroke-width="1"/>
<circle cx="1336.5" cy="348.5" r="8" fill="none" stroke="#000" stroke-width="3"/>
<circle cx="1336.5" cy="600.5" r="8" fill="none" stroke="#000" stroke-width="3"/>
<circle cx="1336.5" cy="853.5" r="8" fill="none" stroke="#000" stroke-width="3"/>
<circle cx="988.5" cy="709.5" r="8" fill="none" stroke="#000" stroke-width="3"/>
<circle cx="1446" cy="709.5" r="8" fill="none" stroke="#000" stroke-width="3"/>
<g filter="url(#th)">
<text transform="translate(1132.43 298.75) scale(1.050 1.00)" font-size="35" style="font-family:'Liberation Mono',monospace" fill="#000">2</text>
<text transform="translate(1149.74 293.68) scale(1.068 0.70)" font-size="35" style="font-family:'Liberation Mono',monospace" fill="#000">(</text>
<text transform="translate(1167.67 298.75) scale(0.952 1.00)" font-size="35" style="font-family:'Liberation Mono',monospace" fill="#000">S</text>
<text transform="translate(1187.61 298.75) scale(1.114 1.00)" font-size="31.8" style="font-family:'Liberation Sans',sans-serif" fill="#000">i</text>
<text transform="translate(1194.21 298.75) scale(1.098 1.00)" font-size="35" style="font-family:'Liberation Mono',monospace" fill="#000">g</text>
<text transform="translate(1214.88 298.75) scale(1.052 1.00)" font-size="35" style="font-family:'Liberation Mono',monospace" fill="#000">n</text>
<text transform="translate(1236.01 298.75) scale(0.956 1.00)" font-size="35" style="font-family:'Liberation Mono',monospace" fill="#000">a</text>
<text transform="translate(1257.45 298.75) scale(1.250 1.00)" font-size="31.8" style="font-family:'Liberation Sans',sans-serif" fill="#000">l</text>
<text transform="translate(1290 298.75) scale(0.805 1.00)" font-size="35" style="font-family:'Liberation Mono',monospace" fill="#000">A</text>
<text transform="translate(1329.29 298.75) scale(0.977 1.00)" font-size="35" style="font-family:'Liberation Mono',monospace" fill="#000">O</text>
<text transform="translate(1348.28 298.75) scale(1.150 1.00)" font-size="35" style="font-family:'Liberation Mono',monospace" fill="#000">u</text>
<text transform="translate(1369.24 298.75) scale(1.192 1.00)" font-size="35" style="font-family:'Liberation Mono',monospace" fill="#000">t</text>
<text transform="translate(1386.93 293.68) scale(1.068 0.70)" font-size="35" style="font-family:'Liberation Mono',monospace" fill="#000">)</text>
<text transform="translate(1052.78 556) scale(1.017 1.00)" font-size="35" style="font-family:'Liberation Mono',monospace" fill="#000">3</text>
<text transform="translate(1069.74 550.93) scale(1.068 0.70)" font-size="35" style="font-family:'Liberation Mono',monospace" fill="#000">(</text>
<text transform="translate(1087.67 556) scale(0.952 1.00)" font-size="35" style="font-family:'Liberation Mono',monospace" fill="#000">S</text>
<text transform="translate(1107.61 556) scale(1.114 1.00)" font-size="31.8" style="font-family:'Liberation Sans',sans-serif" fill="#000">i</text>
<text transform="translate(1114.21 556) scale(1.098 1.00)" font-size="35" style="font-family:'Liberation Mono',monospace" fill="#000">g</text>
<text transform="translate(1134.88 556) scale(1.052 1.00)" font-size="35" style="font-family:'Liberation Mono',monospace" fill="#000">n</text>
<text transform="translate(1156.01 556) scale(0.956 1.00)" font-size="35" style="font-family:'Liberation Mono',monospace" fill="#000">a</text>
<text transform="translate(1177.45 556) scale(1.250 1.00)" font-size="31.8" style="font-family:'Liberation Sans',sans-serif" fill="#000">l</text>
<text transform="translate(1207.2 556) scale(1.001 1.00)" font-size="35" style="font-family:'Liberation Mono',monospace" fill="#000">B</text>
<text transform="translate(1249.29 556) scale(0.977 1.00)" font-size="35" style="font-family:'Liberation Mono',monospace" fill="#000">O</text>
<text transform="translate(1268.28 556) scale(1.150 1.00)" font-size="35" style="font-family:'Liberation Mono',monospace" fill="#000">u</text>
<text transform="translate(1289.24 556) scale(1.192 1.00)" font-size="35" style="font-family:'Liberation Mono',monospace" fill="#000">t</text>
<text transform="translate(1306.93 550.93) scale(1.068 0.70)" font-size="35" style="font-family:'Liberation Mono',monospace" fill="#000">)</text>
<text transform="translate(1066.06 811) scale(1.085 1.00)" font-size="35" style="font-family:'Liberation Mono',monospace" fill="#000">7</text>
<text transform="translate(1083.74 805.93) scale(1.068 0.70)" font-size="35" style="font-family:'Liberation Mono',monospace" fill="#000">(</text>
<text transform="translate(1101.67 811) scale(0.952 1.00)" font-size="35" style="font-family:'Liberation Mono',monospace" fill="#000">S</text>
<text transform="translate(1121.61 811) scale(1.114 1.00)" font-size="31.8" style="font-family:'Liberation Sans',sans-serif" fill="#000">i</text>
<text transform="translate(1128.21 811) scale(1.098 1.00)" font-size="35" style="font-family:'Liberation Mono',monospace" fill="#000">g</text>
<text transform="translate(1148.88 811) scale(1.052 1.00)" font-size="35" style="font-family:'Liberation Mono',monospace" fill="#000">n</text>
<text transform="translate(1170.01 811) scale(0.956 1.00)" font-size="35" style="font-family:'Liberation Mono',monospace" fill="#000">a</text>
<text transform="translate(1191.45 811) scale(1.250 1.00)" font-size="31.8" style="font-family:'Liberation Sans',sans-serif" fill="#000">l</text>
<text transform="translate(1222.15 811) scale(0.961 1.00)" font-size="35" style="font-family:'Liberation Mono',monospace" fill="#000">C</text>
<text transform="translate(1263.29 811) scale(0.977 1.00)" font-size="35" style="font-family:'Liberation Mono',monospace" fill="#000">O</text>
<text transform="translate(1282.28 811) scale(1.150 1.00)" font-size="35" style="font-family:'Liberation Mono',monospace" fill="#000">u</text>
<text transform="translate(1303.24 811) scale(1.192 1.00)" font-size="35" style="font-family:'Liberation Mono',monospace" fill="#000">t</text>
<text transform="translate(1320.93 805.93) scale(1.068 0.70)" font-size="35" style="font-family:'Liberation Mono',monospace" fill="#000">)</text>
<text transform="translate(854.41 761.9) scale(0.909 1.00)" font-size="35" style="font-family:'Liberation Mono',monospace" fill="#000">4</text>
<text transform="translate(870.14 756.83) scale(1.041 0.70)" font-size="35" style="font-family:'Liberation Mono',monospace" fill="#000">(</text>
<text transform="translate(890 761.9) scale(0.805 1.00)" font-size="35" style="font-family:'Liberation Mono',monospace" fill="#000">A</text>
<text transform="translate(908.78 761.9) scale(1.014 1.00)" font-size="35" style="font-family:'Liberation Mono',monospace" fill="#000">c</text>
<text transform="translate(929.03 761.9) scale(1.014 1.00)" font-size="35" style="font-family:'Liberation Mono',monospace" fill="#000">c</text>
<text transform="translate(950.29 761.9) scale(0.972 1.00)" font-size="35" style="font-family:'Liberation Mono',monospace" fill="#000">+</text>
<text transform="translate(966.37 756.83) scale(1.105 0.70)" font-size="35" style="font-family:'Liberation Mono',monospace" fill="#000">)</text>
<text transform="translate(1476.48 761.2) scale(1.038 1.00)" font-size="35" style="font-family:'Liberation Mono',monospace" fill="#000">5</text>
<text transform="translate(1493.74 756.13) scale(1.068 0.70)" font-size="35" style="font-family:'Liberation Mono',monospace" fill="#000">(</text>
<text transform="translate(1512.15 761.2) scale(0.962 1.00)" font-size="35" style="font-family:'Liberation Mono',monospace" fill="#000">G</text>
<text transform="translate(1530.91 761.2) scale(1.104 1.00)" font-size="35" style="font-family:'Liberation Mono',monospace" fill="#000">N</text>
<text transform="translate(1552.06 761.2) scale(1.049 1.00)" font-size="35" style="font-family:'Liberation Mono',monospace" fill="#000">D</text>
<text transform="translate(1570.29 756.13) scale(0.988 0.70)" font-size="35" style="font-family:'Liberation Mono',monospace" fill="#000">)</text>
<text x="1243.5" y="355" font-size="21.8" font-weight="bold" textLength="37" lengthAdjust="spacingAndGlyphs" xml:space="preserve" style="font-family:'Liberation Sans',sans-serif" fill="#000" stroke="#000" stroke-width="0.5">788</text>
<text x="1283.6" y="353" font-size="13.5" font-weight="bold" textLength="8" lengthAdjust="spacingAndGlyphs" xml:space="preserve" style="font-family:'Liberation Sans',sans-serif" fill="#000" stroke="#000" stroke-width="1.2">Ω</text>
<text x="1109.3" y="463.1" font-size="21.8" font-weight="bold" textLength="102.5" lengthAdjust="spacingAndGlyphs" xml:space="preserve" style="font-family:'Liberation Sans',sans-serif" fill="#000" stroke="#000" stroke-width="0.5">315Ω 19.2°</text>
<text x="1243.5" y="607.5" font-size="21.8" font-weight="bold" textLength="37" lengthAdjust="spacingAndGlyphs" xml:space="preserve" style="font-family:'Liberation Sans',sans-serif" fill="#000" stroke="#000" stroke-width="0.5">788</text>
<text x="1283.6" y="605.5" font-size="13.5" font-weight="bold" textLength="8" lengthAdjust="spacingAndGlyphs" xml:space="preserve" style="font-family:'Liberation Sans',sans-serif" fill="#000" stroke="#000" stroke-width="1.2">Ω</text>
<text x="1109.3" y="715.6" font-size="21.8" font-weight="bold" textLength="102.5" lengthAdjust="spacingAndGlyphs" xml:space="preserve" style="font-family:'Liberation Sans',sans-serif" fill="#000" stroke="#000" stroke-width="0.5">315Ω 19.2°</text>
<text x="1243.5" y="859.5" font-size="21.8" font-weight="bold" textLength="37" lengthAdjust="spacingAndGlyphs" xml:space="preserve" style="font-family:'Liberation Sans',sans-serif" fill="#000" stroke="#000" stroke-width="0.5">788</text>
<text x="1283.6" y="857.5" font-size="13.5" font-weight="bold" textLength="8" lengthAdjust="spacingAndGlyphs" xml:space="preserve" style="font-family:'Liberation Sans',sans-serif" fill="#000" stroke="#000" stroke-width="1.2">Ω</text>
<text x="1109.3" y="968.1" font-size="21.8" font-weight="bold" textLength="102.5" lengthAdjust="spacingAndGlyphs" xml:space="preserve" style="font-family:'Liberation Sans',sans-serif" fill="#000" stroke="#000" stroke-width="0.5">315Ω 19.2°</text>
</g>
</svg>
</body></html>
